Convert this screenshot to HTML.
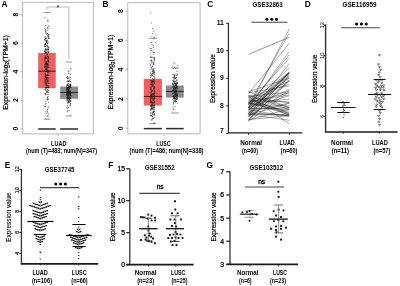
<!DOCTYPE html>
<html><head><meta charset="utf-8"><style>
html,body{margin:0;padding:0;background:#fff;width:400px;height:286px;overflow:hidden}
svg{display:block;will-change:transform}
</style></head><body>
<svg width="400" height="286" viewBox="0 0 400 286">
<rect width="400" height="286" fill="#fff"/>
<text x="1.4" y="7.2" font-family="Liberation Sans, sans-serif" font-size="8.3" font-weight="bold" text-anchor="start" fill="#000" >A</text>
<text x="102.5" y="7.2" font-family="Liberation Sans, sans-serif" font-size="8.3" font-weight="bold" text-anchor="start" fill="#000" >B</text>
<text x="207.3" y="7.2" font-family="Liberation Sans, sans-serif" font-size="8.3" font-weight="bold" text-anchor="start" fill="#000" >C</text>
<text x="304.7" y="7.2" font-family="Liberation Sans, sans-serif" font-size="8.3" font-weight="bold" text-anchor="start" fill="#000" >D</text>
<text x="4.7" y="168.2" font-family="Liberation Sans, sans-serif" font-size="8.3" font-weight="bold" text-anchor="start" fill="#000" >E</text>
<text x="108.3" y="167.8" font-family="Liberation Sans, sans-serif" font-size="8.3" font-weight="bold" text-anchor="start" fill="#000" >F</text>
<text x="206.4" y="168.2" font-family="Liberation Sans, sans-serif" font-size="8.3" font-weight="bold" text-anchor="start" fill="#000" >G</text>
<rect x="22.5" y="2.4" width="70.9" height="131.5" fill="none" stroke="#bdbdbd" stroke-width="1.1"/>
<line x1="20.3" y1="128.7" x2="22.5" y2="128.7" stroke="#888" stroke-width="0.6" />
<text transform="translate(15.2,128.7) rotate(-90)" x="0" y="0" dy="0.35em" font-family="Liberation Sans, sans-serif" font-size="6.9" font-weight="bold" text-anchor="middle" fill="#000">0</text>
<line x1="20.3" y1="100.2" x2="22.5" y2="100.2" stroke="#888" stroke-width="0.6" />
<text transform="translate(15.2,100.2) rotate(-90)" x="0" y="0" dy="0.35em" font-family="Liberation Sans, sans-serif" font-size="6.9" font-weight="bold" text-anchor="middle" fill="#000">2</text>
<line x1="20.3" y1="71.7" x2="22.5" y2="71.7" stroke="#888" stroke-width="0.6" />
<text transform="translate(15.2,71.7) rotate(-90)" x="0" y="0" dy="0.35em" font-family="Liberation Sans, sans-serif" font-size="6.9" font-weight="bold" text-anchor="middle" fill="#000">4</text>
<line x1="20.3" y1="43.2" x2="22.5" y2="43.2" stroke="#888" stroke-width="0.6" />
<text transform="translate(15.2,43.2) rotate(-90)" x="0" y="0" dy="0.35em" font-family="Liberation Sans, sans-serif" font-size="6.9" font-weight="bold" text-anchor="middle" fill="#000">6</text>
<line x1="20.3" y1="14.7" x2="22.5" y2="14.7" stroke="#888" stroke-width="0.6" />
<text transform="translate(15.2,14.7) rotate(-90)" x="0" y="0" dy="0.35em" font-family="Liberation Sans, sans-serif" font-size="6.9" font-weight="bold" text-anchor="middle" fill="#000">8</text>
<text transform="translate(5.3,72.45) rotate(-90)" x="0" y="0" dy="0.35em" font-family="Liberation Sans, sans-serif" font-size="7.1" font-weight="normal" text-anchor="middle" fill="#000" textLength="74.5" lengthAdjust="spacingAndGlyphs" stroke="#000" stroke-width="0.22">Expression-log<tspan font-size="4.6" dy="1.3">2</tspan><tspan dy="-1.3">(TPM+1)</tspan></text>
<rect x="38.2" y="53" width="17.5" height="35.3" fill="#ef5f5f" />
<line x1="38.2" y1="71.2" x2="55.7" y2="71.2" stroke="#1a1a1a" stroke-width="0.9" />
<line x1="38.2" y1="129" x2="55.7" y2="129" stroke="#2a2a2a" stroke-width="1.5" />
<rect x="60.2" y="86.5" width="17.8" height="12.3" fill="#898989" />
<line x1="60.2" y1="92.5" x2="78" y2="92.5" stroke="#1a1a1a" stroke-width="0.9" />
<line x1="60.2" y1="129" x2="78" y2="129" stroke="#2a2a2a" stroke-width="1.5" />
<circle cx="47.43" cy="76.66" r="0.5" fill="#111" fill-opacity="0.75"/>
<circle cx="45" cy="57.52" r="0.5" fill="#111" fill-opacity="0.75"/>
<circle cx="44.94" cy="93.47" r="0.5" fill="#111" fill-opacity="0.75"/>
<circle cx="46.83" cy="75.59" r="0.5" fill="#111" fill-opacity="0.75"/>
<circle cx="44.99" cy="44.42" r="0.5" fill="#111" fill-opacity="0.75"/>
<circle cx="45.08" cy="64.07" r="0.5" fill="#111" fill-opacity="0.75"/>
<circle cx="45.22" cy="111.82" r="0.5" fill="#111" fill-opacity="0.75"/>
<circle cx="45.64" cy="48.95" r="0.5" fill="#111" fill-opacity="0.75"/>
<circle cx="47.12" cy="112.45" r="0.5" fill="#111" fill-opacity="0.75"/>
<circle cx="46.37" cy="113.76" r="0.5" fill="#111" fill-opacity="0.75"/>
<circle cx="48.31" cy="62.66" r="0.5" fill="#111" fill-opacity="0.75"/>
<circle cx="45.92" cy="71.42" r="0.5" fill="#111" fill-opacity="0.75"/>
<circle cx="46" cy="62.58" r="0.5" fill="#111" fill-opacity="0.75"/>
<circle cx="48.13" cy="60.45" r="0.5" fill="#111" fill-opacity="0.75"/>
<circle cx="47.38" cy="56.39" r="0.5" fill="#111" fill-opacity="0.75"/>
<circle cx="46.26" cy="40.42" r="0.5" fill="#111" fill-opacity="0.75"/>
<circle cx="44.95" cy="78.85" r="0.5" fill="#111" fill-opacity="0.75"/>
<circle cx="45.57" cy="72.93" r="0.5" fill="#111" fill-opacity="0.75"/>
<circle cx="46.02" cy="81.43" r="0.5" fill="#111" fill-opacity="0.75"/>
<circle cx="47.16" cy="94.14" r="0.5" fill="#111" fill-opacity="0.75"/>
<circle cx="48.04" cy="90.42" r="0.5" fill="#111" fill-opacity="0.75"/>
<circle cx="47.64" cy="64.17" r="0.5" fill="#111" fill-opacity="0.75"/>
<circle cx="46.91" cy="69.07" r="0.5" fill="#111" fill-opacity="0.75"/>
<circle cx="48.38" cy="37.7" r="0.5" fill="#111" fill-opacity="0.75"/>
<circle cx="48.82" cy="72.92" r="0.5" fill="#111" fill-opacity="0.75"/>
<circle cx="45.2" cy="90.66" r="0.5" fill="#111" fill-opacity="0.75"/>
<circle cx="45.34" cy="106.8" r="0.5" fill="#111" fill-opacity="0.75"/>
<circle cx="46.75" cy="49.63" r="0.5" fill="#111" fill-opacity="0.75"/>
<circle cx="47.91" cy="34.35" r="0.5" fill="#111" fill-opacity="0.75"/>
<circle cx="47.11" cy="61.24" r="0.5" fill="#111" fill-opacity="0.75"/>
<circle cx="47.62" cy="54.93" r="0.5" fill="#111" fill-opacity="0.75"/>
<circle cx="47.2" cy="85.53" r="0.5" fill="#111" fill-opacity="0.75"/>
<circle cx="48.23" cy="94.4" r="0.5" fill="#111" fill-opacity="0.75"/>
<circle cx="48.67" cy="83.52" r="0.5" fill="#111" fill-opacity="0.75"/>
<circle cx="44.95" cy="106.63" r="0.5" fill="#111" fill-opacity="0.75"/>
<circle cx="47.65" cy="64.31" r="0.5" fill="#111" fill-opacity="0.75"/>
<circle cx="48.15" cy="117.65" r="0.5" fill="#111" fill-opacity="0.75"/>
<circle cx="47.51" cy="75.58" r="0.5" fill="#111" fill-opacity="0.75"/>
<circle cx="44.79" cy="46.23" r="0.5" fill="#111" fill-opacity="0.75"/>
<circle cx="45.19" cy="84.97" r="0.5" fill="#111" fill-opacity="0.75"/>
<circle cx="44.95" cy="66.67" r="0.5" fill="#111" fill-opacity="0.75"/>
<circle cx="45.74" cy="68.77" r="0.5" fill="#111" fill-opacity="0.75"/>
<circle cx="46.34" cy="83.31" r="0.5" fill="#111" fill-opacity="0.75"/>
<circle cx="46.59" cy="63.21" r="0.5" fill="#111" fill-opacity="0.75"/>
<circle cx="47.01" cy="77.66" r="0.5" fill="#111" fill-opacity="0.75"/>
<circle cx="48.33" cy="35.99" r="0.5" fill="#111" fill-opacity="0.75"/>
<circle cx="45.87" cy="101.13" r="0.5" fill="#111" fill-opacity="0.75"/>
<circle cx="48.41" cy="90.53" r="0.5" fill="#111" fill-opacity="0.75"/>
<circle cx="48.72" cy="58.35" r="0.5" fill="#111" fill-opacity="0.75"/>
<circle cx="45.67" cy="61.22" r="0.5" fill="#111" fill-opacity="0.75"/>
<circle cx="45.68" cy="57.66" r="0.5" fill="#111" fill-opacity="0.75"/>
<circle cx="45.8" cy="103.39" r="0.5" fill="#111" fill-opacity="0.75"/>
<circle cx="44.72" cy="67.14" r="0.5" fill="#111" fill-opacity="0.75"/>
<circle cx="47.08" cy="91.18" r="0.5" fill="#111" fill-opacity="0.75"/>
<circle cx="48.7" cy="58.6" r="0.5" fill="#111" fill-opacity="0.75"/>
<circle cx="47.29" cy="81.24" r="0.5" fill="#111" fill-opacity="0.75"/>
<circle cx="47.54" cy="98.22" r="0.5" fill="#111" fill-opacity="0.75"/>
<circle cx="47.98" cy="19.86" r="0.5" fill="#111" fill-opacity="0.75"/>
<circle cx="48.37" cy="52.48" r="0.5" fill="#111" fill-opacity="0.75"/>
<circle cx="46.38" cy="62.9" r="0.5" fill="#111" fill-opacity="0.75"/>
<circle cx="45.13" cy="94.05" r="0.5" fill="#111" fill-opacity="0.75"/>
<circle cx="44.98" cy="76.22" r="0.5" fill="#111" fill-opacity="0.75"/>
<circle cx="45.58" cy="76.96" r="0.5" fill="#111" fill-opacity="0.75"/>
<circle cx="44.92" cy="58.37" r="0.5" fill="#111" fill-opacity="0.75"/>
<circle cx="44.7" cy="50.9" r="0.5" fill="#111" fill-opacity="0.75"/>
<circle cx="46.23" cy="63.57" r="0.5" fill="#111" fill-opacity="0.75"/>
<circle cx="44.81" cy="60.89" r="0.5" fill="#111" fill-opacity="0.75"/>
<circle cx="45.32" cy="46.04" r="0.5" fill="#111" fill-opacity="0.75"/>
<circle cx="45.76" cy="94.71" r="0.5" fill="#111" fill-opacity="0.75"/>
<circle cx="45.22" cy="83.91" r="0.5" fill="#111" fill-opacity="0.75"/>
<circle cx="48.27" cy="50.85" r="0.5" fill="#111" fill-opacity="0.75"/>
<circle cx="46.73" cy="42.37" r="0.5" fill="#111" fill-opacity="0.75"/>
<circle cx="45.06" cy="71.49" r="0.5" fill="#111" fill-opacity="0.75"/>
<circle cx="45.81" cy="51.98" r="0.5" fill="#111" fill-opacity="0.75"/>
<circle cx="48.18" cy="56.6" r="0.5" fill="#111" fill-opacity="0.75"/>
<circle cx="48.69" cy="67.43" r="0.5" fill="#111" fill-opacity="0.75"/>
<circle cx="46.92" cy="65.7" r="0.5" fill="#111" fill-opacity="0.75"/>
<circle cx="44.81" cy="51.39" r="0.5" fill="#111" fill-opacity="0.75"/>
<circle cx="46.92" cy="45.42" r="0.5" fill="#111" fill-opacity="0.75"/>
<circle cx="47.62" cy="20.98" r="0.5" fill="#111" fill-opacity="0.75"/>
<circle cx="45.8" cy="76.98" r="0.5" fill="#111" fill-opacity="0.75"/>
<circle cx="47.94" cy="80.37" r="0.5" fill="#111" fill-opacity="0.75"/>
<circle cx="46.94" cy="59.07" r="0.5" fill="#111" fill-opacity="0.75"/>
<circle cx="45.64" cy="66.23" r="0.5" fill="#111" fill-opacity="0.75"/>
<circle cx="48.11" cy="92.21" r="0.5" fill="#111" fill-opacity="0.75"/>
<circle cx="48.09" cy="21.69" r="0.5" fill="#111" fill-opacity="0.75"/>
<circle cx="48.14" cy="74.89" r="0.5" fill="#111" fill-opacity="0.75"/>
<circle cx="46.87" cy="71.41" r="0.5" fill="#111" fill-opacity="0.75"/>
<circle cx="46.19" cy="88.12" r="0.5" fill="#111" fill-opacity="0.75"/>
<circle cx="45.87" cy="64.44" r="0.5" fill="#111" fill-opacity="0.75"/>
<circle cx="45.79" cy="69.2" r="0.5" fill="#111" fill-opacity="0.75"/>
<circle cx="46.58" cy="92.34" r="0.5" fill="#111" fill-opacity="0.75"/>
<circle cx="48.71" cy="98.87" r="0.5" fill="#111" fill-opacity="0.75"/>
<circle cx="45.65" cy="81.88" r="0.5" fill="#111" fill-opacity="0.75"/>
<circle cx="45.53" cy="57.05" r="0.5" fill="#111" fill-opacity="0.75"/>
<circle cx="48.48" cy="60.41" r="0.5" fill="#111" fill-opacity="0.75"/>
<circle cx="48.23" cy="36.82" r="0.5" fill="#111" fill-opacity="0.75"/>
<circle cx="48.06" cy="106.26" r="0.5" fill="#111" fill-opacity="0.75"/>
<circle cx="45.06" cy="65.61" r="0.5" fill="#111" fill-opacity="0.75"/>
<circle cx="47.99" cy="99.41" r="0.5" fill="#111" fill-opacity="0.75"/>
<circle cx="47.85" cy="116.57" r="0.5" fill="#111" fill-opacity="0.75"/>
<circle cx="48.01" cy="85.77" r="0.5" fill="#111" fill-opacity="0.75"/>
<circle cx="46.1" cy="68.12" r="0.5" fill="#111" fill-opacity="0.75"/>
<circle cx="46.36" cy="49.38" r="0.5" fill="#111" fill-opacity="0.75"/>
<circle cx="47.74" cy="35.2" r="0.5" fill="#111" fill-opacity="0.75"/>
<circle cx="45.33" cy="64.01" r="0.5" fill="#111" fill-opacity="0.75"/>
<circle cx="48.5" cy="58.88" r="0.5" fill="#111" fill-opacity="0.75"/>
<circle cx="48.17" cy="65.4" r="0.5" fill="#111" fill-opacity="0.75"/>
<circle cx="48.82" cy="83.42" r="0.5" fill="#111" fill-opacity="0.75"/>
<circle cx="47" cy="83.02" r="0.5" fill="#111" fill-opacity="0.75"/>
<circle cx="45.25" cy="89.62" r="0.5" fill="#111" fill-opacity="0.75"/>
<circle cx="47.43" cy="64.35" r="0.5" fill="#111" fill-opacity="0.75"/>
<circle cx="46.52" cy="79.93" r="0.5" fill="#111" fill-opacity="0.75"/>
<circle cx="45.59" cy="37.97" r="0.5" fill="#111" fill-opacity="0.75"/>
<circle cx="45.76" cy="103.93" r="0.5" fill="#111" fill-opacity="0.75"/>
<circle cx="47.16" cy="75.21" r="0.5" fill="#111" fill-opacity="0.75"/>
<circle cx="45.79" cy="52.45" r="0.5" fill="#111" fill-opacity="0.75"/>
<circle cx="48.52" cy="81.82" r="0.5" fill="#111" fill-opacity="0.75"/>
<circle cx="46.19" cy="63.83" r="0.5" fill="#111" fill-opacity="0.75"/>
<circle cx="48.5" cy="102.14" r="0.5" fill="#111" fill-opacity="0.75"/>
<circle cx="46.47" cy="61.7" r="0.5" fill="#111" fill-opacity="0.75"/>
<circle cx="46.93" cy="44.69" r="0.5" fill="#111" fill-opacity="0.75"/>
<circle cx="46.9" cy="84.82" r="0.5" fill="#111" fill-opacity="0.75"/>
<circle cx="45.47" cy="43.6" r="0.5" fill="#111" fill-opacity="0.75"/>
<circle cx="44.72" cy="67.13" r="0.5" fill="#111" fill-opacity="0.75"/>
<circle cx="46.69" cy="65.61" r="0.5" fill="#111" fill-opacity="0.75"/>
<circle cx="47.75" cy="84.89" r="0.5" fill="#111" fill-opacity="0.75"/>
<circle cx="46.88" cy="91.05" r="0.5" fill="#111" fill-opacity="0.75"/>
<circle cx="47.03" cy="77.97" r="0.5" fill="#111" fill-opacity="0.75"/>
<circle cx="47.05" cy="67.75" r="0.5" fill="#111" fill-opacity="0.75"/>
<circle cx="45.74" cy="81.81" r="0.5" fill="#111" fill-opacity="0.75"/>
<circle cx="46.83" cy="77.5" r="0.5" fill="#111" fill-opacity="0.75"/>
<circle cx="47.06" cy="27.99" r="0.5" fill="#111" fill-opacity="0.75"/>
<circle cx="46.56" cy="66.82" r="0.5" fill="#111" fill-opacity="0.75"/>
<circle cx="46.85" cy="92.78" r="0.5" fill="#111" fill-opacity="0.75"/>
<circle cx="47.61" cy="89.5" r="0.5" fill="#111" fill-opacity="0.75"/>
<circle cx="46.71" cy="99.69" r="0.5" fill="#111" fill-opacity="0.75"/>
<circle cx="48.65" cy="61.19" r="0.5" fill="#111" fill-opacity="0.75"/>
<circle cx="48.66" cy="86.28" r="0.5" fill="#111" fill-opacity="0.75"/>
<circle cx="45.79" cy="118.71" r="0.5" fill="#111" fill-opacity="0.75"/>
<circle cx="48.23" cy="92.1" r="0.5" fill="#111" fill-opacity="0.75"/>
<circle cx="46.56" cy="62" r="0.5" fill="#111" fill-opacity="0.75"/>
<circle cx="45" cy="60.64" r="0.5" fill="#111" fill-opacity="0.75"/>
<circle cx="47.51" cy="69.7" r="0.5" fill="#111" fill-opacity="0.75"/>
<circle cx="47.99" cy="60.57" r="0.5" fill="#111" fill-opacity="0.75"/>
<circle cx="47.71" cy="58.75" r="0.5" fill="#111" fill-opacity="0.75"/>
<circle cx="47.47" cy="78.98" r="0.5" fill="#111" fill-opacity="0.75"/>
<circle cx="48.76" cy="38.11" r="0.5" fill="#111" fill-opacity="0.75"/>
<circle cx="45.62" cy="29.88" r="0.5" fill="#111" fill-opacity="0.75"/>
<circle cx="46.75" cy="46.25" r="0.5" fill="#111" fill-opacity="0.75"/>
<circle cx="48.86" cy="77.66" r="0.5" fill="#111" fill-opacity="0.75"/>
<circle cx="46.51" cy="62.95" r="0.5" fill="#111" fill-opacity="0.75"/>
<circle cx="46.87" cy="83.13" r="0.5" fill="#111" fill-opacity="0.75"/>
<circle cx="46.04" cy="79.02" r="0.5" fill="#111" fill-opacity="0.75"/>
<circle cx="47.73" cy="56.33" r="0.5" fill="#111" fill-opacity="0.75"/>
<circle cx="46.55" cy="38.82" r="0.5" fill="#111" fill-opacity="0.75"/>
<circle cx="44.78" cy="66.41" r="0.5" fill="#111" fill-opacity="0.75"/>
<circle cx="46.85" cy="87.36" r="0.5" fill="#111" fill-opacity="0.75"/>
<circle cx="44.97" cy="39.87" r="0.5" fill="#111" fill-opacity="0.75"/>
<circle cx="48.78" cy="26.52" r="0.5" fill="#111" fill-opacity="0.75"/>
<circle cx="45.14" cy="74.39" r="0.5" fill="#111" fill-opacity="0.75"/>
<circle cx="47.97" cy="70.97" r="0.5" fill="#111" fill-opacity="0.75"/>
<circle cx="45.84" cy="63.22" r="0.5" fill="#111" fill-opacity="0.75"/>
<circle cx="48.53" cy="52.34" r="0.5" fill="#111" fill-opacity="0.75"/>
<circle cx="48.14" cy="51.28" r="0.5" fill="#111" fill-opacity="0.75"/>
<circle cx="48.56" cy="71.04" r="0.5" fill="#111" fill-opacity="0.75"/>
<circle cx="47.1" cy="56.11" r="0.5" fill="#111" fill-opacity="0.75"/>
<circle cx="44.94" cy="73.58" r="0.5" fill="#111" fill-opacity="0.75"/>
<circle cx="47.59" cy="80.55" r="0.5" fill="#111" fill-opacity="0.75"/>
<circle cx="48.64" cy="78.9" r="0.5" fill="#111" fill-opacity="0.75"/>
<circle cx="47.36" cy="65.9" r="0.5" fill="#111" fill-opacity="0.75"/>
<circle cx="48.3" cy="66.95" r="0.5" fill="#111" fill-opacity="0.75"/>
<circle cx="44.98" cy="80.16" r="0.5" fill="#111" fill-opacity="0.75"/>
<circle cx="46.12" cy="52.43" r="0.5" fill="#111" fill-opacity="0.75"/>
<circle cx="47.02" cy="91.1" r="0.5" fill="#111" fill-opacity="0.75"/>
<circle cx="45.24" cy="52.64" r="0.5" fill="#111" fill-opacity="0.75"/>
<circle cx="46.91" cy="79.03" r="0.5" fill="#111" fill-opacity="0.75"/>
<circle cx="45.38" cy="69.4" r="0.5" fill="#111" fill-opacity="0.75"/>
<circle cx="44.91" cy="58.3" r="0.5" fill="#111" fill-opacity="0.75"/>
<circle cx="45.98" cy="63.84" r="0.5" fill="#111" fill-opacity="0.75"/>
<circle cx="47.89" cy="49.69" r="0.5" fill="#111" fill-opacity="0.75"/>
<circle cx="45.45" cy="77.57" r="0.5" fill="#111" fill-opacity="0.75"/>
<circle cx="46.16" cy="41.83" r="0.5" fill="#111" fill-opacity="0.75"/>
<circle cx="44.76" cy="51.46" r="0.5" fill="#111" fill-opacity="0.75"/>
<circle cx="47.78" cy="68.12" r="0.5" fill="#111" fill-opacity="0.75"/>
<circle cx="46.69" cy="85.61" r="0.5" fill="#111" fill-opacity="0.75"/>
<circle cx="48.63" cy="75.37" r="0.5" fill="#111" fill-opacity="0.75"/>
<circle cx="46.52" cy="34.08" r="0.5" fill="#111" fill-opacity="0.75"/>
<circle cx="46.78" cy="41.73" r="0.5" fill="#111" fill-opacity="0.75"/>
<circle cx="46.83" cy="57.64" r="0.5" fill="#111" fill-opacity="0.75"/>
<circle cx="47.59" cy="91.76" r="0.5" fill="#111" fill-opacity="0.75"/>
<circle cx="48.2" cy="47.57" r="0.5" fill="#111" fill-opacity="0.75"/>
<circle cx="47.67" cy="72.79" r="0.5" fill="#111" fill-opacity="0.75"/>
<circle cx="46.16" cy="86.95" r="0.5" fill="#111" fill-opacity="0.75"/>
<circle cx="44.93" cy="89.43" r="0.5" fill="#111" fill-opacity="0.75"/>
<circle cx="47.81" cy="63.73" r="0.5" fill="#111" fill-opacity="0.75"/>
<circle cx="45.77" cy="63.32" r="0.5" fill="#111" fill-opacity="0.75"/>
<circle cx="48.23" cy="64.84" r="0.5" fill="#111" fill-opacity="0.75"/>
<circle cx="48.36" cy="61.32" r="0.5" fill="#111" fill-opacity="0.75"/>
<circle cx="45.72" cy="79.99" r="0.5" fill="#111" fill-opacity="0.75"/>
<circle cx="45.93" cy="88.09" r="0.5" fill="#111" fill-opacity="0.75"/>
<circle cx="46.57" cy="84.41" r="0.5" fill="#111" fill-opacity="0.75"/>
<circle cx="45.81" cy="66.6" r="0.5" fill="#111" fill-opacity="0.75"/>
<circle cx="47" cy="86.18" r="0.5" fill="#111" fill-opacity="0.75"/>
<circle cx="46" cy="68.02" r="0.5" fill="#111" fill-opacity="0.75"/>
<circle cx="46.3" cy="70.99" r="0.5" fill="#111" fill-opacity="0.75"/>
<circle cx="46.69" cy="69.37" r="0.5" fill="#111" fill-opacity="0.75"/>
<circle cx="46.82" cy="86.98" r="0.5" fill="#111" fill-opacity="0.75"/>
<circle cx="44.72" cy="70.57" r="0.5" fill="#111" fill-opacity="0.75"/>
<circle cx="46.38" cy="71.24" r="0.5" fill="#111" fill-opacity="0.75"/>
<circle cx="44.88" cy="59.5" r="0.5" fill="#111" fill-opacity="0.75"/>
<circle cx="45.68" cy="49.25" r="0.5" fill="#111" fill-opacity="0.75"/>
<circle cx="47.16" cy="67.28" r="0.5" fill="#111" fill-opacity="0.75"/>
<circle cx="47.46" cy="111.13" r="0.5" fill="#111" fill-opacity="0.75"/>
<circle cx="47.71" cy="77.85" r="0.5" fill="#111" fill-opacity="0.75"/>
<circle cx="46.07" cy="52.31" r="0.5" fill="#111" fill-opacity="0.75"/>
<circle cx="48.84" cy="87.34" r="0.5" fill="#111" fill-opacity="0.75"/>
<circle cx="47.4" cy="46.64" r="0.5" fill="#111" fill-opacity="0.75"/>
<circle cx="44.88" cy="37.98" r="0.5" fill="#111" fill-opacity="0.75"/>
<circle cx="47.33" cy="43.41" r="0.5" fill="#111" fill-opacity="0.75"/>
<circle cx="47.78" cy="115.51" r="0.5" fill="#111" fill-opacity="0.75"/>
<circle cx="46.9" cy="65.07" r="0.5" fill="#111" fill-opacity="0.75"/>
<circle cx="46.82" cy="82.9" r="0.5" fill="#111" fill-opacity="0.75"/>
<circle cx="48.17" cy="47.35" r="0.5" fill="#111" fill-opacity="0.75"/>
<circle cx="47.15" cy="109.08" r="0.5" fill="#111" fill-opacity="0.75"/>
<circle cx="47.61" cy="40.73" r="0.5" fill="#111" fill-opacity="0.75"/>
<circle cx="45.67" cy="93.85" r="0.5" fill="#111" fill-opacity="0.75"/>
<circle cx="46.21" cy="57.2" r="0.5" fill="#111" fill-opacity="0.75"/>
<circle cx="45.14" cy="67.68" r="0.5" fill="#111" fill-opacity="0.75"/>
<circle cx="47.34" cy="53.9" r="0.5" fill="#111" fill-opacity="0.75"/>
<circle cx="47.33" cy="97.64" r="0.5" fill="#111" fill-opacity="0.75"/>
<circle cx="44.71" cy="82.47" r="0.5" fill="#111" fill-opacity="0.75"/>
<circle cx="48.05" cy="96.48" r="0.5" fill="#111" fill-opacity="0.75"/>
<circle cx="46.95" cy="70.6" r="0.5" fill="#111" fill-opacity="0.75"/>
<circle cx="47.47" cy="99.76" r="0.5" fill="#111" fill-opacity="0.75"/>
<circle cx="45.76" cy="32.99" r="0.5" fill="#111" fill-opacity="0.75"/>
<circle cx="45.01" cy="53.85" r="0.5" fill="#111" fill-opacity="0.75"/>
<circle cx="45.56" cy="74.21" r="0.5" fill="#111" fill-opacity="0.75"/>
<circle cx="47.81" cy="30.15" r="0.5" fill="#111" fill-opacity="0.75"/>
<circle cx="46.31" cy="41.51" r="0.5" fill="#111" fill-opacity="0.75"/>
<circle cx="46.71" cy="74.7" r="0.5" fill="#111" fill-opacity="0.75"/>
<circle cx="47.29" cy="87.5" r="0.5" fill="#111" fill-opacity="0.75"/>
<circle cx="47.4" cy="109.2" r="0.5" fill="#111" fill-opacity="0.75"/>
<circle cx="45.77" cy="57.83" r="0.5" fill="#111" fill-opacity="0.75"/>
<circle cx="47.82" cy="63.69" r="0.5" fill="#111" fill-opacity="0.75"/>
<circle cx="44.75" cy="81.1" r="0.5" fill="#111" fill-opacity="0.75"/>
<circle cx="44.95" cy="39.85" r="0.5" fill="#111" fill-opacity="0.75"/>
<circle cx="47.61" cy="74.66" r="0.5" fill="#111" fill-opacity="0.75"/>
<circle cx="47.54" cy="33.3" r="0.5" fill="#111" fill-opacity="0.75"/>
<circle cx="46.65" cy="77.91" r="0.5" fill="#111" fill-opacity="0.75"/>
<circle cx="46.66" cy="41.19" r="0.5" fill="#111" fill-opacity="0.75"/>
<circle cx="45.54" cy="31.45" r="0.5" fill="#111" fill-opacity="0.75"/>
<circle cx="48.81" cy="34.5" r="0.5" fill="#111" fill-opacity="0.75"/>
<circle cx="46.63" cy="65.96" r="0.5" fill="#111" fill-opacity="0.75"/>
<circle cx="48.14" cy="72.1" r="0.5" fill="#111" fill-opacity="0.75"/>
<circle cx="45.83" cy="43.57" r="0.5" fill="#111" fill-opacity="0.75"/>
<circle cx="45.58" cy="75.7" r="0.5" fill="#111" fill-opacity="0.75"/>
<circle cx="47.14" cy="54.11" r="0.5" fill="#111" fill-opacity="0.75"/>
<circle cx="45.3" cy="76.03" r="0.5" fill="#111" fill-opacity="0.75"/>
<circle cx="45.26" cy="79.56" r="0.5" fill="#111" fill-opacity="0.75"/>
<circle cx="48.42" cy="57.58" r="0.5" fill="#111" fill-opacity="0.75"/>
<circle cx="47.65" cy="97.16" r="0.5" fill="#111" fill-opacity="0.75"/>
<circle cx="46.74" cy="64.06" r="0.5" fill="#111" fill-opacity="0.75"/>
<circle cx="44.8" cy="17.39" r="0.5" fill="#111" fill-opacity="0.75"/>
<circle cx="46.59" cy="41.27" r="0.5" fill="#111" fill-opacity="0.75"/>
<circle cx="45.97" cy="69.62" r="0.5" fill="#111" fill-opacity="0.75"/>
<circle cx="46.03" cy="55.76" r="0.5" fill="#111" fill-opacity="0.75"/>
<circle cx="48.23" cy="52.57" r="0.5" fill="#111" fill-opacity="0.75"/>
<circle cx="48.22" cy="28.71" r="0.5" fill="#111" fill-opacity="0.75"/>
<circle cx="45.2" cy="69.82" r="0.5" fill="#111" fill-opacity="0.75"/>
<circle cx="48.49" cy="35.01" r="0.5" fill="#111" fill-opacity="0.75"/>
<circle cx="45.92" cy="87.85" r="0.5" fill="#111" fill-opacity="0.75"/>
<circle cx="48.89" cy="87.58" r="0.5" fill="#111" fill-opacity="0.75"/>
<circle cx="47.17" cy="52.35" r="0.5" fill="#111" fill-opacity="0.75"/>
<circle cx="45.86" cy="87.17" r="0.5" fill="#111" fill-opacity="0.75"/>
<circle cx="44.9" cy="50.04" r="0.5" fill="#111" fill-opacity="0.75"/>
<circle cx="45.9" cy="32.3" r="0.5" fill="#111" fill-opacity="0.75"/>
<circle cx="48.63" cy="42.06" r="0.5" fill="#111" fill-opacity="0.75"/>
<circle cx="46.85" cy="70.19" r="0.5" fill="#111" fill-opacity="0.75"/>
<circle cx="45.5" cy="50.68" r="0.5" fill="#111" fill-opacity="0.75"/>
<circle cx="48.41" cy="113.92" r="0.5" fill="#111" fill-opacity="0.75"/>
<circle cx="48.11" cy="25.72" r="0.5" fill="#111" fill-opacity="0.75"/>
<circle cx="48.65" cy="107.81" r="0.5" fill="#111" fill-opacity="0.75"/>
<circle cx="47.01" cy="110.7" r="0.5" fill="#111" fill-opacity="0.75"/>
<circle cx="47.78" cy="71.78" r="0.5" fill="#111" fill-opacity="0.75"/>
<circle cx="46.59" cy="78.07" r="0.5" fill="#111" fill-opacity="0.75"/>
<circle cx="45.9" cy="69.67" r="0.5" fill="#111" fill-opacity="0.75"/>
<circle cx="44.91" cy="106.13" r="0.5" fill="#111" fill-opacity="0.75"/>
<circle cx="46.68" cy="58.61" r="0.5" fill="#111" fill-opacity="0.75"/>
<circle cx="46.14" cy="76.05" r="0.5" fill="#111" fill-opacity="0.75"/>
<circle cx="48.8" cy="82.36" r="0.5" fill="#111" fill-opacity="0.75"/>
<circle cx="45.79" cy="31.23" r="0.5" fill="#111" fill-opacity="0.75"/>
<circle cx="47.04" cy="82.02" r="0.5" fill="#111" fill-opacity="0.75"/>
<circle cx="46.36" cy="87.8" r="0.5" fill="#111" fill-opacity="0.75"/>
<circle cx="45.57" cy="62.92" r="0.5" fill="#111" fill-opacity="0.75"/>
<circle cx="48.51" cy="57.42" r="0.5" fill="#111" fill-opacity="0.75"/>
<circle cx="48.51" cy="87.85" r="0.5" fill="#111" fill-opacity="0.75"/>
<circle cx="48.89" cy="69.95" r="0.5" fill="#111" fill-opacity="0.75"/>
<circle cx="45.51" cy="83.28" r="0.5" fill="#111" fill-opacity="0.75"/>
<circle cx="45.08" cy="66.05" r="0.5" fill="#111" fill-opacity="0.75"/>
<circle cx="45.5" cy="52.3" r="0.5" fill="#111" fill-opacity="0.75"/>
<circle cx="45.59" cy="43.68" r="0.5" fill="#111" fill-opacity="0.75"/>
<circle cx="46.37" cy="48.93" r="0.5" fill="#111" fill-opacity="0.75"/>
<circle cx="45.99" cy="51" r="0.5" fill="#111" fill-opacity="0.75"/>
<circle cx="49.14" cy="38.27" r="0.5" fill="#111" fill-opacity="0.75"/>
<circle cx="44.93" cy="44.53" r="0.5" fill="#111" fill-opacity="0.75"/>
<circle cx="48.61" cy="49.33" r="0.5" fill="#111" fill-opacity="0.75"/>
<circle cx="45.54" cy="46.5" r="0.5" fill="#111" fill-opacity="0.75"/>
<circle cx="46.3" cy="37.83" r="0.5" fill="#111" fill-opacity="0.75"/>
<circle cx="48.54" cy="37.1" r="0.5" fill="#111" fill-opacity="0.75"/>
<circle cx="44.46" cy="46.81" r="0.5" fill="#111" fill-opacity="0.75"/>
<circle cx="47.85" cy="51.04" r="0.5" fill="#111" fill-opacity="0.75"/>
<circle cx="47.24" cy="36.11" r="0.5" fill="#111" fill-opacity="0.75"/>
<circle cx="48.93" cy="34.7" r="0.5" fill="#111" fill-opacity="0.75"/>
<circle cx="48.43" cy="48.88" r="0.5" fill="#111" fill-opacity="0.75"/>
<circle cx="45.54" cy="25.43" r="0.5" fill="#111" fill-opacity="0.75"/>
<circle cx="46.91" cy="42.51" r="0.5" fill="#111" fill-opacity="0.75"/>
<circle cx="47.71" cy="43.68" r="0.5" fill="#111" fill-opacity="0.75"/>
<circle cx="47.54" cy="27.63" r="0.5" fill="#111" fill-opacity="0.75"/>
<circle cx="48.12" cy="57.09" r="0.5" fill="#111" fill-opacity="0.75"/>
<circle cx="44.5" cy="44.12" r="0.5" fill="#111" fill-opacity="0.75"/>
<circle cx="48.9" cy="46.81" r="0.5" fill="#111" fill-opacity="0.75"/>
<circle cx="44.94" cy="56.3" r="0.5" fill="#111" fill-opacity="0.75"/>
<circle cx="47.79" cy="49.13" r="0.5" fill="#111" fill-opacity="0.75"/>
<circle cx="44.86" cy="28.63" r="0.5" fill="#111" fill-opacity="0.75"/>
<circle cx="47.21" cy="33.2" r="0.5" fill="#111" fill-opacity="0.75"/>
<circle cx="46.24" cy="41.47" r="0.5" fill="#111" fill-opacity="0.75"/>
<circle cx="44.35" cy="45.71" r="0.5" fill="#111" fill-opacity="0.75"/>
<circle cx="45.81" cy="29.85" r="0.5" fill="#111" fill-opacity="0.75"/>
<circle cx="47.52" cy="40.1" r="0.5" fill="#111" fill-opacity="0.75"/>
<circle cx="45.47" cy="36.84" r="0.5" fill="#111" fill-opacity="0.75"/>
<circle cx="47.82" cy="48.23" r="0.5" fill="#111" fill-opacity="0.75"/>
<circle cx="46.79" cy="49.96" r="0.5" fill="#111" fill-opacity="0.75"/>
<circle cx="47.67" cy="46.1" r="0.5" fill="#111" fill-opacity="0.75"/>
<circle cx="47.64" cy="43.61" r="0.5" fill="#111" fill-opacity="0.75"/>
<circle cx="44.47" cy="39.79" r="0.5" fill="#111" fill-opacity="0.75"/>
<circle cx="45.99" cy="53.53" r="0.5" fill="#111" fill-opacity="0.75"/>
<circle cx="45.29" cy="38.57" r="0.5" fill="#111" fill-opacity="0.75"/>
<circle cx="46.82" cy="42.09" r="0.5" fill="#111" fill-opacity="0.75"/>
<circle cx="45.86" cy="38.43" r="0.5" fill="#111" fill-opacity="0.75"/>
<circle cx="45.41" cy="44.5" r="0.5" fill="#111" fill-opacity="0.75"/>
<circle cx="49.06" cy="48.12" r="0.5" fill="#111" fill-opacity="0.75"/>
<circle cx="45.42" cy="48.66" r="0.5" fill="#111" fill-opacity="0.75"/>
<circle cx="49.04" cy="38.4" r="0.5" fill="#111" fill-opacity="0.75"/>
<circle cx="45.36" cy="40.26" r="0.5" fill="#111" fill-opacity="0.75"/>
<circle cx="70.79" cy="84.91" r="0.5" fill="#111" fill-opacity="0.75"/>
<circle cx="66.95" cy="90.12" r="0.5" fill="#111" fill-opacity="0.75"/>
<circle cx="68.35" cy="89.69" r="0.5" fill="#111" fill-opacity="0.75"/>
<circle cx="69.78" cy="77.24" r="0.5" fill="#111" fill-opacity="0.75"/>
<circle cx="70.89" cy="102.88" r="0.5" fill="#111" fill-opacity="0.75"/>
<circle cx="67.48" cy="84.76" r="0.5" fill="#111" fill-opacity="0.75"/>
<circle cx="70.63" cy="95.23" r="0.5" fill="#111" fill-opacity="0.75"/>
<circle cx="69.49" cy="91.99" r="0.5" fill="#111" fill-opacity="0.75"/>
<circle cx="68.29" cy="94.18" r="0.5" fill="#111" fill-opacity="0.75"/>
<circle cx="67.41" cy="97.5" r="0.5" fill="#111" fill-opacity="0.75"/>
<circle cx="66.71" cy="86.29" r="0.5" fill="#111" fill-opacity="0.75"/>
<circle cx="70.71" cy="93.47" r="0.5" fill="#111" fill-opacity="0.75"/>
<circle cx="67.22" cy="83.86" r="0.5" fill="#111" fill-opacity="0.75"/>
<circle cx="68.2" cy="86.06" r="0.5" fill="#111" fill-opacity="0.75"/>
<circle cx="70.15" cy="93.28" r="0.5" fill="#111" fill-opacity="0.75"/>
<circle cx="66.91" cy="87.82" r="0.5" fill="#111" fill-opacity="0.75"/>
<circle cx="68.69" cy="100.39" r="0.5" fill="#111" fill-opacity="0.75"/>
<circle cx="67.51" cy="105.76" r="0.5" fill="#111" fill-opacity="0.75"/>
<circle cx="68.23" cy="77.71" r="0.5" fill="#111" fill-opacity="0.75"/>
<circle cx="68.43" cy="90.19" r="0.5" fill="#111" fill-opacity="0.75"/>
<circle cx="70.11" cy="93.26" r="0.5" fill="#111" fill-opacity="0.75"/>
<circle cx="66.85" cy="91.67" r="0.5" fill="#111" fill-opacity="0.75"/>
<circle cx="66.96" cy="94.47" r="0.5" fill="#111" fill-opacity="0.75"/>
<circle cx="69.84" cy="85.97" r="0.5" fill="#111" fill-opacity="0.75"/>
<circle cx="70.47" cy="95.21" r="0.5" fill="#111" fill-opacity="0.75"/>
<circle cx="70.72" cy="95.67" r="0.5" fill="#111" fill-opacity="0.75"/>
<circle cx="69.29" cy="85.97" r="0.5" fill="#111" fill-opacity="0.75"/>
<circle cx="68.03" cy="93.01" r="0.5" fill="#111" fill-opacity="0.75"/>
<circle cx="67.86" cy="77.95" r="0.5" fill="#111" fill-opacity="0.75"/>
<circle cx="70.55" cy="77.11" r="0.5" fill="#111" fill-opacity="0.75"/>
<circle cx="69.36" cy="91.58" r="0.5" fill="#111" fill-opacity="0.75"/>
<circle cx="67.68" cy="90.1" r="0.5" fill="#111" fill-opacity="0.75"/>
<circle cx="68.7" cy="92.62" r="0.5" fill="#111" fill-opacity="0.75"/>
<circle cx="68.32" cy="70.82" r="0.5" fill="#111" fill-opacity="0.75"/>
<circle cx="67.75" cy="97.81" r="0.5" fill="#111" fill-opacity="0.75"/>
<circle cx="70.6" cy="101.26" r="0.5" fill="#111" fill-opacity="0.75"/>
<circle cx="67.47" cy="87.54" r="0.5" fill="#111" fill-opacity="0.75"/>
<circle cx="70.16" cy="87.24" r="0.5" fill="#111" fill-opacity="0.75"/>
<circle cx="69.95" cy="105.62" r="0.5" fill="#111" fill-opacity="0.75"/>
<circle cx="68.04" cy="98.09" r="0.5" fill="#111" fill-opacity="0.75"/>
<circle cx="68.22" cy="96.85" r="0.5" fill="#111" fill-opacity="0.75"/>
<circle cx="67.53" cy="91.21" r="0.5" fill="#111" fill-opacity="0.75"/>
<circle cx="69.86" cy="95.45" r="0.5" fill="#111" fill-opacity="0.75"/>
<circle cx="66.84" cy="91.88" r="0.5" fill="#111" fill-opacity="0.75"/>
<circle cx="69.02" cy="88.7" r="0.5" fill="#111" fill-opacity="0.75"/>
<circle cx="70.41" cy="103.28" r="0.5" fill="#111" fill-opacity="0.75"/>
<circle cx="70.85" cy="69.93" r="0.5" fill="#111" fill-opacity="0.75"/>
<circle cx="67.1" cy="92.28" r="0.5" fill="#111" fill-opacity="0.75"/>
<circle cx="68.79" cy="88.25" r="0.5" fill="#111" fill-opacity="0.75"/>
<circle cx="67.68" cy="94.34" r="0.5" fill="#111" fill-opacity="0.75"/>
<circle cx="68.45" cy="101.25" r="0.5" fill="#111" fill-opacity="0.75"/>
<circle cx="69.84" cy="101.56" r="0.5" fill="#111" fill-opacity="0.75"/>
<circle cx="70.26" cy="101.01" r="0.5" fill="#111" fill-opacity="0.75"/>
<circle cx="70.23" cy="94.23" r="0.5" fill="#111" fill-opacity="0.75"/>
<circle cx="67.93" cy="95.79" r="0.5" fill="#111" fill-opacity="0.75"/>
<circle cx="69.8" cy="99.73" r="0.5" fill="#111" fill-opacity="0.75"/>
<circle cx="67.54" cy="95.42" r="0.5" fill="#111" fill-opacity="0.75"/>
<circle cx="67.34" cy="91.83" r="0.5" fill="#111" fill-opacity="0.75"/>
<circle cx="70.41" cy="85.31" r="0.5" fill="#111" fill-opacity="0.75"/>
<circle cx="68.36" cy="98.86" r="0.5" fill="#111" fill-opacity="0.75"/>
<circle cx="70.87" cy="95.64" r="0.5" fill="#111" fill-opacity="0.75"/>
<circle cx="70.1" cy="98.34" r="0.5" fill="#111" fill-opacity="0.75"/>
<circle cx="69.44" cy="92.23" r="0.5" fill="#111" fill-opacity="0.75"/>
<circle cx="68.69" cy="87.84" r="0.5" fill="#111" fill-opacity="0.75"/>
<circle cx="70.14" cy="92.17" r="0.5" fill="#111" fill-opacity="0.75"/>
<circle cx="66.87" cy="81.38" r="0.5" fill="#111" fill-opacity="0.75"/>
<circle cx="67.93" cy="108.44" r="0.5" fill="#111" fill-opacity="0.75"/>
<circle cx="70.79" cy="87.74" r="0.5" fill="#111" fill-opacity="0.75"/>
<circle cx="69.15" cy="88.03" r="0.5" fill="#111" fill-opacity="0.75"/>
<circle cx="70.34" cy="84.22" r="0.5" fill="#111" fill-opacity="0.75"/>
<circle cx="68.59" cy="95.56" r="0.5" fill="#111" fill-opacity="0.75"/>
<circle cx="70.67" cy="92.89" r="0.5" fill="#111" fill-opacity="0.75"/>
<circle cx="67.14" cy="76.64" r="0.5" fill="#111" fill-opacity="0.75"/>
<circle cx="67.61" cy="102.05" r="0.5" fill="#111" fill-opacity="0.75"/>
<circle cx="68.25" cy="98.92" r="0.5" fill="#111" fill-opacity="0.75"/>
<circle cx="67.77" cy="88.17" r="0.5" fill="#111" fill-opacity="0.75"/>
<circle cx="69.22" cy="87.3" r="0.5" fill="#111" fill-opacity="0.75"/>
<circle cx="66.75" cy="95.39" r="0.5" fill="#111" fill-opacity="0.75"/>
<circle cx="68.07" cy="96.79" r="0.5" fill="#111" fill-opacity="0.75"/>
<circle cx="68.01" cy="94.4" r="0.5" fill="#111" fill-opacity="0.75"/>
<circle cx="67.55" cy="97.02" r="0.5" fill="#111" fill-opacity="0.75"/>
<circle cx="66.97" cy="88.81" r="0.5" fill="#111" fill-opacity="0.75"/>
<circle cx="67.13" cy="102.62" r="0.5" fill="#111" fill-opacity="0.75"/>
<circle cx="69.38" cy="100.77" r="0.5" fill="#111" fill-opacity="0.75"/>
<circle cx="67.08" cy="85.11" r="0.5" fill="#111" fill-opacity="0.75"/>
<circle cx="68.42" cy="84.9" r="0.5" fill="#111" fill-opacity="0.75"/>
<circle cx="67.89" cy="80.27" r="0.5" fill="#111" fill-opacity="0.75"/>
<circle cx="68.01" cy="99.68" r="0.5" fill="#111" fill-opacity="0.75"/>
<circle cx="69.08" cy="71.49" r="0.5" fill="#111" fill-opacity="0.75"/>
<circle cx="70.33" cy="97.65" r="0.5" fill="#111" fill-opacity="0.75"/>
<circle cx="70.89" cy="84.77" r="0.5" fill="#111" fill-opacity="0.75"/>
<circle cx="69.76" cy="95.77" r="0.5" fill="#111" fill-opacity="0.75"/>
<circle cx="67.56" cy="87.51" r="0.5" fill="#111" fill-opacity="0.75"/>
<circle cx="68.48" cy="72.92" r="0.5" fill="#111" fill-opacity="0.75"/>
<circle cx="70.15" cy="91.23" r="0.5" fill="#111" fill-opacity="0.75"/>
<circle cx="68.64" cy="107.15" r="0.5" fill="#111" fill-opacity="0.75"/>
<circle cx="67.38" cy="81.77" r="0.5" fill="#111" fill-opacity="0.75"/>
<circle cx="69.39" cy="80.79" r="0.5" fill="#111" fill-opacity="0.75"/>
<circle cx="70.52" cy="90.89" r="0.5" fill="#111" fill-opacity="0.75"/>
<circle cx="68.26" cy="81.49" r="0.5" fill="#111" fill-opacity="0.75"/>
<circle cx="68.82" cy="85.39" r="0.5" fill="#111" fill-opacity="0.75"/>
<circle cx="68.89" cy="87.55" r="0.5" fill="#111" fill-opacity="0.75"/>
<circle cx="70.59" cy="86.21" r="0.5" fill="#111" fill-opacity="0.75"/>
<circle cx="70.08" cy="83.98" r="0.5" fill="#111" fill-opacity="0.75"/>
<circle cx="70.76" cy="85.45" r="0.5" fill="#111" fill-opacity="0.75"/>
<circle cx="70.66" cy="90.44" r="0.5" fill="#111" fill-opacity="0.75"/>
<circle cx="70.8" cy="87.59" r="0.5" fill="#111" fill-opacity="0.75"/>
<circle cx="70.59" cy="94.84" r="0.5" fill="#111" fill-opacity="0.75"/>
<circle cx="68.33" cy="91.62" r="0.5" fill="#111" fill-opacity="0.75"/>
<circle cx="70.16" cy="81.8" r="0.5" fill="#111" fill-opacity="0.75"/>
<circle cx="67.37" cy="98.9" r="0.5" fill="#111" fill-opacity="0.75"/>
<circle cx="68.4" cy="90.54" r="0.5" fill="#111" fill-opacity="0.75"/>
<circle cx="70.25" cy="98.04" r="0.5" fill="#111" fill-opacity="0.75"/>
<circle cx="67.62" cy="89.25" r="0.5" fill="#111" fill-opacity="0.75"/>
<circle cx="68.38" cy="96.87" r="0.5" fill="#111" fill-opacity="0.75"/>
<circle cx="67.22" cy="100.57" r="0.5" fill="#111" fill-opacity="0.75"/>
<circle cx="67.74" cy="92.91" r="0.5" fill="#111" fill-opacity="0.75"/>
<circle cx="66.87" cy="94.9" r="0.5" fill="#111" fill-opacity="0.75"/>
<circle cx="69.06" cy="110.55" r="0.5" fill="#111" fill-opacity="0.75"/>
<circle cx="70.22" cy="91.82" r="0.5" fill="#111" fill-opacity="0.75"/>
<circle cx="67.19" cy="94.4" r="0.5" fill="#111" fill-opacity="0.75"/>
<circle cx="69.33" cy="100.99" r="0.5" fill="#111" fill-opacity="0.75"/>
<circle cx="67.99" cy="98.47" r="0.5" fill="#111" fill-opacity="0.75"/>
<circle cx="68.49" cy="102.17" r="0.5" fill="#111" fill-opacity="0.75"/>
<circle cx="69.47" cy="86.31" r="0.5" fill="#111" fill-opacity="0.75"/>
<circle cx="66.8" cy="100.9" r="0.5" fill="#111" fill-opacity="0.75"/>
<circle cx="69.3" cy="88.82" r="0.5" fill="#111" fill-opacity="0.75"/>
<circle cx="69.91" cy="98.39" r="0.5" fill="#111" fill-opacity="0.75"/>
<circle cx="69.98" cy="91.51" r="0.5" fill="#111" fill-opacity="0.75"/>
<circle cx="68.69" cy="97.3" r="0.5" fill="#111" fill-opacity="0.75"/>
<circle cx="67.15" cy="90.49" r="0.5" fill="#111" fill-opacity="0.75"/>
<circle cx="67.09" cy="85.45" r="0.5" fill="#111" fill-opacity="0.75"/>
<circle cx="68.56" cy="85.16" r="0.5" fill="#111" fill-opacity="0.75"/>
<circle cx="69.37" cy="94.48" r="0.5" fill="#111" fill-opacity="0.75"/>
<circle cx="67.05" cy="92.1" r="0.5" fill="#111" fill-opacity="0.75"/>
<circle cx="68.85" cy="93.52" r="0.5" fill="#111" fill-opacity="0.75"/>
<circle cx="66.93" cy="107.17" r="0.5" fill="#111" fill-opacity="0.75"/>
<circle cx="70.69" cy="100.54" r="0.5" fill="#111" fill-opacity="0.75"/>
<circle cx="67.27" cy="92.15" r="0.5" fill="#111" fill-opacity="0.75"/>
<circle cx="69.77" cy="73.59" r="0.5" fill="#111" fill-opacity="0.75"/>
<circle cx="70.12" cy="114.96" r="0.5" fill="#111" fill-opacity="0.75"/>
<circle cx="68.77" cy="83.28" r="0.5" fill="#111" fill-opacity="0.75"/>
<circle cx="70.72" cy="68.49" r="0.5" fill="#111" fill-opacity="0.75"/>
<circle cx="70.01" cy="87.35" r="0.5" fill="#111" fill-opacity="0.75"/>
<circle cx="70.61" cy="94.61" r="0.5" fill="#111" fill-opacity="0.75"/>
<circle cx="69.88" cy="84.41" r="0.5" fill="#111" fill-opacity="0.75"/>
<circle cx="67.37" cy="88.65" r="0.5" fill="#111" fill-opacity="0.75"/>
<circle cx="70.13" cy="86.29" r="0.5" fill="#111" fill-opacity="0.75"/>
<circle cx="67.3" cy="96.22" r="0.5" fill="#111" fill-opacity="0.75"/>
<circle cx="67.57" cy="111.79" r="0.5" fill="#111" fill-opacity="0.75"/>
<circle cx="67.8" cy="92.21" r="0.5" fill="#111" fill-opacity="0.75"/>
<circle cx="66.85" cy="99.68" r="0.5" fill="#111" fill-opacity="0.75"/>
<circle cx="67.46" cy="92.23" r="0.5" fill="#111" fill-opacity="0.75"/>
<circle cx="69.55" cy="80.96" r="0.5" fill="#111" fill-opacity="0.75"/>
<circle cx="70.46" cy="74.34" r="0.5" fill="#111" fill-opacity="0.75"/>
<circle cx="67.18" cy="84.37" r="0.5" fill="#111" fill-opacity="0.75"/>
<circle cx="68.93" cy="78.42" r="0.5" fill="#111" fill-opacity="0.75"/>
<circle cx="70.37" cy="97.4" r="0.5" fill="#111" fill-opacity="0.75"/>
<circle cx="69.03" cy="98.24" r="0.5" fill="#111" fill-opacity="0.75"/>
<circle cx="67.14" cy="107.96" r="0.5" fill="#111" fill-opacity="0.75"/>
<circle cx="70.87" cy="100.75" r="0.5" fill="#111" fill-opacity="0.75"/>
<circle cx="70.05" cy="98" r="0.5" fill="#111" fill-opacity="0.75"/>
<circle cx="67.81" cy="98.38" r="0.5" fill="#111" fill-opacity="0.75"/>
<circle cx="68.21" cy="80.36" r="0.5" fill="#111" fill-opacity="0.75"/>
<circle cx="69.91" cy="92.63" r="0.5" fill="#111" fill-opacity="0.75"/>
<circle cx="69.82" cy="97.09" r="0.5" fill="#111" fill-opacity="0.75"/>
<circle cx="66.9" cy="89.98" r="0.5" fill="#111" fill-opacity="0.75"/>
<circle cx="69.38" cy="89.06" r="0.5" fill="#111" fill-opacity="0.75"/>
<circle cx="70.83" cy="98.05" r="0.5" fill="#111" fill-opacity="0.75"/>
<circle cx="68.01" cy="103.13" r="0.5" fill="#111" fill-opacity="0.75"/>
<circle cx="66.71" cy="98.64" r="0.5" fill="#111" fill-opacity="0.75"/>
<circle cx="69.29" cy="87.02" r="0.5" fill="#111" fill-opacity="0.75"/>
<circle cx="68.52" cy="90.88" r="0.5" fill="#111" fill-opacity="0.75"/>
<circle cx="67.25" cy="110.65" r="0.5" fill="#111" fill-opacity="0.75"/>
<circle cx="67.65" cy="93.43" r="0.5" fill="#111" fill-opacity="0.75"/>
<circle cx="66.71" cy="93.01" r="0.5" fill="#111" fill-opacity="0.75"/>
<circle cx="68.19" cy="93.47" r="0.5" fill="#111" fill-opacity="0.75"/>
<circle cx="67.64" cy="85.42" r="0.5" fill="#111" fill-opacity="0.75"/>
<circle cx="69.15" cy="86.79" r="0.5" fill="#111" fill-opacity="0.75"/>
<circle cx="69.32" cy="96.99" r="0.5" fill="#111" fill-opacity="0.75"/>
<circle cx="68.69" cy="95.11" r="0.5" fill="#111" fill-opacity="0.75"/>
<circle cx="67.72" cy="78.19" r="0.5" fill="#111" fill-opacity="0.75"/>
<circle cx="67.33" cy="76.39" r="0.5" fill="#111" fill-opacity="0.75"/>
<circle cx="70.36" cy="81.55" r="0.5" fill="#111" fill-opacity="0.75"/>
<circle cx="69.99" cy="84.8" r="0.5" fill="#111" fill-opacity="0.75"/>
<circle cx="66.75" cy="97.58" r="0.5" fill="#111" fill-opacity="0.75"/>
<circle cx="69.41" cy="87.94" r="0.5" fill="#111" fill-opacity="0.75"/>
<circle cx="69.41" cy="99.52" r="0.5" fill="#111" fill-opacity="0.75"/>
<circle cx="68.56" cy="95.07" r="0.5" fill="#111" fill-opacity="0.75"/>
<circle cx="67.74" cy="78.67" r="0.5" fill="#111" fill-opacity="0.75"/>
<circle cx="70.49" cy="97.46" r="0.5" fill="#111" fill-opacity="0.75"/>
<circle cx="68.41" cy="81.47" r="0.5" fill="#111" fill-opacity="0.75"/>
<circle cx="67.7" cy="88.97" r="0.5" fill="#111" fill-opacity="0.75"/>
<circle cx="66.75" cy="77.61" r="0.5" fill="#111" fill-opacity="0.75"/>
<circle cx="69.01" cy="86.43" r="0.5" fill="#111" fill-opacity="0.75"/>
<circle cx="67.54" cy="87.37" r="0.5" fill="#111" fill-opacity="0.75"/>
<circle cx="69.25" cy="93.71" r="0.5" fill="#111" fill-opacity="0.75"/>
<circle cx="70.12" cy="104.58" r="0.5" fill="#111" fill-opacity="0.75"/>
<circle cx="67.43" cy="92.49" r="0.5" fill="#111" fill-opacity="0.75"/>
<circle cx="66.9" cy="94.66" r="0.5" fill="#111" fill-opacity="0.75"/>
<circle cx="70.44" cy="84.98" r="0.5" fill="#111" fill-opacity="0.75"/>
<circle cx="66.73" cy="89.05" r="0.5" fill="#111" fill-opacity="0.75"/>
<circle cx="70.25" cy="105.64" r="0.5" fill="#111" fill-opacity="0.75"/>
<circle cx="69.82" cy="92.23" r="0.5" fill="#111" fill-opacity="0.75"/>
<circle cx="68.6" cy="101.82" r="0.5" fill="#111" fill-opacity="0.75"/>
<circle cx="67.68" cy="91.31" r="0.5" fill="#111" fill-opacity="0.75"/>
<circle cx="66.86" cy="87.82" r="0.5" fill="#111" fill-opacity="0.75"/>
<circle cx="69.62" cy="99.46" r="0.5" fill="#111" fill-opacity="0.75"/>
<circle cx="70.25" cy="79.3" r="0.5" fill="#111" fill-opacity="0.75"/>
<circle cx="69.03" cy="93.59" r="0.5" fill="#111" fill-opacity="0.75"/>
<circle cx="68.53" cy="98.68" r="0.5" fill="#111" fill-opacity="0.75"/>
<circle cx="67.81" cy="89.36" r="0.5" fill="#111" fill-opacity="0.75"/>
<circle cx="69.4" cy="102.38" r="0.5" fill="#111" fill-opacity="0.75"/>
<circle cx="70.4" cy="85.9" r="0.5" fill="#111" fill-opacity="0.75"/>
<circle cx="66.76" cy="93.28" r="0.5" fill="#111" fill-opacity="0.75"/>
<circle cx="69.82" cy="92.36" r="0.5" fill="#111" fill-opacity="0.75"/>
<circle cx="70.67" cy="85.46" r="0.5" fill="#111" fill-opacity="0.75"/>
<circle cx="70.4" cy="92.13" r="0.5" fill="#111" fill-opacity="0.75"/>
<circle cx="68.08" cy="99.79" r="0.5" fill="#111" fill-opacity="0.75"/>
<circle cx="69.35" cy="90.62" r="0.5" fill="#111" fill-opacity="0.75"/>
<line x1="57.95" y1="133.9" x2="57.95" y2="136.1" stroke="#888" stroke-width="0.6" />
<text x="51" y="145.9" font-family="Liberation Sans, sans-serif" font-size="6.9" font-weight="bold" text-anchor="start" fill="#000" textLength="15.4" lengthAdjust="spacingAndGlyphs" >LUAD</text>
<text x="26" y="152.7" font-family="Liberation Sans, sans-serif" font-size="6.6" font-weight="bold" text-anchor="start" fill="#000" textLength="71" lengthAdjust="spacingAndGlyphs" >(num (T)=483; num(N)=347)</text>
<path d="M47 10 V7 H68.9 V59" fill="none" stroke="#aaa" stroke-width="0.8"/>
<text x="57.9" y="9.6" font-family="Liberation Sans, sans-serif" font-size="7" font-weight="bold" text-anchor="middle" fill="#a02828" >*</text>
<line x1="43.5" y1="12.5" x2="50.5" y2="12.5" stroke="#555" stroke-width="0.6" />
<line x1="44" y1="119.3" x2="50" y2="119.3" stroke="#555" stroke-width="0.6" />
<line x1="65.5" y1="116" x2="72" y2="116" stroke="#555" stroke-width="0.6" />
<line x1="65.5" y1="62" x2="72" y2="62" stroke="#555" stroke-width="0.6" />
<rect x="127.75" y="2.6" width="72.35" height="131.2" fill="none" stroke="#bdbdbd" stroke-width="1.1"/>
<line x1="125.55" y1="128.3" x2="127.75" y2="128.3" stroke="#888" stroke-width="0.6" />
<text transform="translate(120.5,128.3) rotate(-90)" x="0" y="0" dy="0.35em" font-family="Liberation Sans, sans-serif" font-size="6.9" font-weight="bold" text-anchor="middle" fill="#000">0</text>
<line x1="125.55" y1="99" x2="127.75" y2="99" stroke="#888" stroke-width="0.6" />
<text transform="translate(120.5,99) rotate(-90)" x="0" y="0" dy="0.35em" font-family="Liberation Sans, sans-serif" font-size="6.9" font-weight="bold" text-anchor="middle" fill="#000">2</text>
<line x1="125.55" y1="69.7" x2="127.75" y2="69.7" stroke="#888" stroke-width="0.6" />
<text transform="translate(120.5,69.7) rotate(-90)" x="0" y="0" dy="0.35em" font-family="Liberation Sans, sans-serif" font-size="6.9" font-weight="bold" text-anchor="middle" fill="#000">4</text>
<line x1="125.55" y1="40.4" x2="127.75" y2="40.4" stroke="#888" stroke-width="0.6" />
<text transform="translate(120.5,40.4) rotate(-90)" x="0" y="0" dy="0.35em" font-family="Liberation Sans, sans-serif" font-size="6.9" font-weight="bold" text-anchor="middle" fill="#000">6</text>
<line x1="125.55" y1="11.1" x2="127.75" y2="11.1" stroke="#888" stroke-width="0.6" />
<text transform="translate(120.5,11.1) rotate(-90)" x="0" y="0" dy="0.35em" font-family="Liberation Sans, sans-serif" font-size="6.9" font-weight="bold" text-anchor="middle" fill="#000">8</text>
<text transform="translate(110.8,72) rotate(-90)" x="0" y="0" dy="0.35em" font-family="Liberation Sans, sans-serif" font-size="7.1" font-weight="normal" text-anchor="middle" fill="#000" textLength="74.8" lengthAdjust="spacingAndGlyphs" stroke="#000" stroke-width="0.22">Expression-log<tspan font-size="4.6" dy="1.3">2</tspan><tspan dy="-1.3">(TPM+1)</tspan></text>
<rect x="143.75" y="78.9" width="18.15" height="26.6" fill="#ef5f5f" />
<line x1="143.75" y1="96.4" x2="161.9" y2="96.4" stroke="#1a1a1a" stroke-width="0.9" />
<line x1="143.75" y1="128.6" x2="161.9" y2="128.6" stroke="#2a2a2a" stroke-width="1.5" />
<rect x="166" y="85.5" width="17.75" height="12.1" fill="#8a8a8a" />
<line x1="166" y1="91.4" x2="183.75" y2="91.4" stroke="#1a1a1a" stroke-width="0.9" />
<line x1="166" y1="128.6" x2="183.75" y2="128.6" stroke="#2a2a2a" stroke-width="1.5" />
<circle cx="153.53" cy="52.54" r="0.5" fill="#111" fill-opacity="0.75"/>
<circle cx="152.45" cy="118.26" r="0.5" fill="#111" fill-opacity="0.75"/>
<circle cx="154.32" cy="77.27" r="0.5" fill="#111" fill-opacity="0.75"/>
<circle cx="152.3" cy="116.35" r="0.5" fill="#111" fill-opacity="0.75"/>
<circle cx="151.68" cy="96.19" r="0.5" fill="#111" fill-opacity="0.75"/>
<circle cx="151.22" cy="115.91" r="0.5" fill="#111" fill-opacity="0.75"/>
<circle cx="154.57" cy="97.7" r="0.5" fill="#111" fill-opacity="0.75"/>
<circle cx="150.89" cy="97.54" r="0.5" fill="#111" fill-opacity="0.75"/>
<circle cx="154.66" cy="83.83" r="0.5" fill="#111" fill-opacity="0.75"/>
<circle cx="151.86" cy="90.94" r="0.5" fill="#111" fill-opacity="0.75"/>
<circle cx="150.4" cy="89.63" r="0.5" fill="#111" fill-opacity="0.75"/>
<circle cx="153.52" cy="88.97" r="0.5" fill="#111" fill-opacity="0.75"/>
<circle cx="153.74" cy="111.27" r="0.5" fill="#111" fill-opacity="0.75"/>
<circle cx="150.52" cy="113.5" r="0.5" fill="#111" fill-opacity="0.75"/>
<circle cx="154.12" cy="107.07" r="0.5" fill="#111" fill-opacity="0.75"/>
<circle cx="154.13" cy="101.78" r="0.5" fill="#111" fill-opacity="0.75"/>
<circle cx="154.37" cy="87.16" r="0.5" fill="#111" fill-opacity="0.75"/>
<circle cx="154.59" cy="96.68" r="0.5" fill="#111" fill-opacity="0.75"/>
<circle cx="151.19" cy="84.22" r="0.5" fill="#111" fill-opacity="0.75"/>
<circle cx="150.74" cy="95.4" r="0.5" fill="#111" fill-opacity="0.75"/>
<circle cx="154.1" cy="57.71" r="0.5" fill="#111" fill-opacity="0.75"/>
<circle cx="153.24" cy="84.78" r="0.5" fill="#111" fill-opacity="0.75"/>
<circle cx="151.58" cy="80.65" r="0.5" fill="#111" fill-opacity="0.75"/>
<circle cx="150.68" cy="115.46" r="0.5" fill="#111" fill-opacity="0.75"/>
<circle cx="151.18" cy="67.23" r="0.5" fill="#111" fill-opacity="0.75"/>
<circle cx="151.73" cy="74.63" r="0.5" fill="#111" fill-opacity="0.75"/>
<circle cx="151.43" cy="95.75" r="0.5" fill="#111" fill-opacity="0.75"/>
<circle cx="151.56" cy="90.67" r="0.5" fill="#111" fill-opacity="0.75"/>
<circle cx="151.74" cy="96.15" r="0.5" fill="#111" fill-opacity="0.75"/>
<circle cx="154.83" cy="109.55" r="0.5" fill="#111" fill-opacity="0.75"/>
<circle cx="153.17" cy="93.25" r="0.5" fill="#111" fill-opacity="0.75"/>
<circle cx="152.29" cy="73.86" r="0.5" fill="#111" fill-opacity="0.75"/>
<circle cx="153.91" cy="88.75" r="0.5" fill="#111" fill-opacity="0.75"/>
<circle cx="152.78" cy="108.75" r="0.5" fill="#111" fill-opacity="0.75"/>
<circle cx="151.24" cy="68.93" r="0.5" fill="#111" fill-opacity="0.75"/>
<circle cx="154.14" cy="87.23" r="0.5" fill="#111" fill-opacity="0.75"/>
<circle cx="151.02" cy="98.49" r="0.5" fill="#111" fill-opacity="0.75"/>
<circle cx="153.86" cy="80.1" r="0.5" fill="#111" fill-opacity="0.75"/>
<circle cx="154.89" cy="92.31" r="0.5" fill="#111" fill-opacity="0.75"/>
<circle cx="152.56" cy="71.14" r="0.5" fill="#111" fill-opacity="0.75"/>
<circle cx="154.02" cy="91.82" r="0.5" fill="#111" fill-opacity="0.75"/>
<circle cx="151.87" cy="83.85" r="0.5" fill="#111" fill-opacity="0.75"/>
<circle cx="154.19" cy="72.8" r="0.5" fill="#111" fill-opacity="0.75"/>
<circle cx="151.56" cy="95.33" r="0.5" fill="#111" fill-opacity="0.75"/>
<circle cx="151.23" cy="48.55" r="0.5" fill="#111" fill-opacity="0.75"/>
<circle cx="150.73" cy="99.12" r="0.5" fill="#111" fill-opacity="0.75"/>
<circle cx="153.26" cy="112.84" r="0.5" fill="#111" fill-opacity="0.75"/>
<circle cx="153.55" cy="64.23" r="0.5" fill="#111" fill-opacity="0.75"/>
<circle cx="153.98" cy="76.71" r="0.5" fill="#111" fill-opacity="0.75"/>
<circle cx="152.13" cy="104.32" r="0.5" fill="#111" fill-opacity="0.75"/>
<circle cx="152.09" cy="104.77" r="0.5" fill="#111" fill-opacity="0.75"/>
<circle cx="154.46" cy="86.4" r="0.5" fill="#111" fill-opacity="0.75"/>
<circle cx="150.32" cy="97.35" r="0.5" fill="#111" fill-opacity="0.75"/>
<circle cx="154.53" cy="88.51" r="0.5" fill="#111" fill-opacity="0.75"/>
<circle cx="152.61" cy="78.64" r="0.5" fill="#111" fill-opacity="0.75"/>
<circle cx="151.32" cy="120" r="0.5" fill="#111" fill-opacity="0.75"/>
<circle cx="152.41" cy="66.27" r="0.5" fill="#111" fill-opacity="0.75"/>
<circle cx="153.81" cy="122.5" r="0.5" fill="#111" fill-opacity="0.75"/>
<circle cx="153.3" cy="98.45" r="0.5" fill="#111" fill-opacity="0.75"/>
<circle cx="150.95" cy="101.85" r="0.5" fill="#111" fill-opacity="0.75"/>
<circle cx="154.25" cy="79.14" r="0.5" fill="#111" fill-opacity="0.75"/>
<circle cx="151.01" cy="108.22" r="0.5" fill="#111" fill-opacity="0.75"/>
<circle cx="152.31" cy="118.07" r="0.5" fill="#111" fill-opacity="0.75"/>
<circle cx="150.81" cy="88.87" r="0.5" fill="#111" fill-opacity="0.75"/>
<circle cx="152.42" cy="116.24" r="0.5" fill="#111" fill-opacity="0.75"/>
<circle cx="151.12" cy="82.27" r="0.5" fill="#111" fill-opacity="0.75"/>
<circle cx="151.65" cy="101.33" r="0.5" fill="#111" fill-opacity="0.75"/>
<circle cx="150.94" cy="102.64" r="0.5" fill="#111" fill-opacity="0.75"/>
<circle cx="151.77" cy="84.71" r="0.5" fill="#111" fill-opacity="0.75"/>
<circle cx="152.71" cy="80.94" r="0.5" fill="#111" fill-opacity="0.75"/>
<circle cx="151.11" cy="83.74" r="0.5" fill="#111" fill-opacity="0.75"/>
<circle cx="154.88" cy="78.57" r="0.5" fill="#111" fill-opacity="0.75"/>
<circle cx="154.82" cy="93.54" r="0.5" fill="#111" fill-opacity="0.75"/>
<circle cx="150.69" cy="100.82" r="0.5" fill="#111" fill-opacity="0.75"/>
<circle cx="154.02" cy="57.43" r="0.5" fill="#111" fill-opacity="0.75"/>
<circle cx="151.14" cy="94.46" r="0.5" fill="#111" fill-opacity="0.75"/>
<circle cx="153.26" cy="111.87" r="0.5" fill="#111" fill-opacity="0.75"/>
<circle cx="152.06" cy="82.66" r="0.5" fill="#111" fill-opacity="0.75"/>
<circle cx="150.36" cy="84.66" r="0.5" fill="#111" fill-opacity="0.75"/>
<circle cx="153.53" cy="118.5" r="0.5" fill="#111" fill-opacity="0.75"/>
<circle cx="152.6" cy="73.2" r="0.5" fill="#111" fill-opacity="0.75"/>
<circle cx="150.88" cy="106.17" r="0.5" fill="#111" fill-opacity="0.75"/>
<circle cx="153.1" cy="107.51" r="0.5" fill="#111" fill-opacity="0.75"/>
<circle cx="154.56" cy="117.27" r="0.5" fill="#111" fill-opacity="0.75"/>
<circle cx="152.26" cy="75.44" r="0.5" fill="#111" fill-opacity="0.75"/>
<circle cx="152.22" cy="119.63" r="0.5" fill="#111" fill-opacity="0.75"/>
<circle cx="151.3" cy="106.06" r="0.5" fill="#111" fill-opacity="0.75"/>
<circle cx="153.92" cy="98.96" r="0.5" fill="#111" fill-opacity="0.75"/>
<circle cx="153.46" cy="103.46" r="0.5" fill="#111" fill-opacity="0.75"/>
<circle cx="151.7" cy="105.1" r="0.5" fill="#111" fill-opacity="0.75"/>
<circle cx="153.22" cy="108.05" r="0.5" fill="#111" fill-opacity="0.75"/>
<circle cx="153.96" cy="76.81" r="0.5" fill="#111" fill-opacity="0.75"/>
<circle cx="153.62" cy="81.39" r="0.5" fill="#111" fill-opacity="0.75"/>
<circle cx="152.23" cy="101.94" r="0.5" fill="#111" fill-opacity="0.75"/>
<circle cx="152.38" cy="102.51" r="0.5" fill="#111" fill-opacity="0.75"/>
<circle cx="153.44" cy="105.98" r="0.5" fill="#111" fill-opacity="0.75"/>
<circle cx="154.66" cy="105.41" r="0.5" fill="#111" fill-opacity="0.75"/>
<circle cx="153.94" cy="81.51" r="0.5" fill="#111" fill-opacity="0.75"/>
<circle cx="152.07" cy="68.04" r="0.5" fill="#111" fill-opacity="0.75"/>
<circle cx="150.38" cy="89.24" r="0.5" fill="#111" fill-opacity="0.75"/>
<circle cx="153.95" cy="102.85" r="0.5" fill="#111" fill-opacity="0.75"/>
<circle cx="154.71" cy="95.33" r="0.5" fill="#111" fill-opacity="0.75"/>
<circle cx="152.96" cy="100.8" r="0.5" fill="#111" fill-opacity="0.75"/>
<circle cx="152.8" cy="93.43" r="0.5" fill="#111" fill-opacity="0.75"/>
<circle cx="153.27" cy="96.88" r="0.5" fill="#111" fill-opacity="0.75"/>
<circle cx="154.18" cy="113.89" r="0.5" fill="#111" fill-opacity="0.75"/>
<circle cx="154.75" cy="111.06" r="0.5" fill="#111" fill-opacity="0.75"/>
<circle cx="151.21" cy="94.96" r="0.5" fill="#111" fill-opacity="0.75"/>
<circle cx="153.86" cy="99.74" r="0.5" fill="#111" fill-opacity="0.75"/>
<circle cx="150.79" cy="109.16" r="0.5" fill="#111" fill-opacity="0.75"/>
<circle cx="150.47" cy="75.33" r="0.5" fill="#111" fill-opacity="0.75"/>
<circle cx="151.52" cy="94.08" r="0.5" fill="#111" fill-opacity="0.75"/>
<circle cx="152.21" cy="94.83" r="0.5" fill="#111" fill-opacity="0.75"/>
<circle cx="152.22" cy="90.64" r="0.5" fill="#111" fill-opacity="0.75"/>
<circle cx="151.47" cy="97.86" r="0.5" fill="#111" fill-opacity="0.75"/>
<circle cx="151.28" cy="108.58" r="0.5" fill="#111" fill-opacity="0.75"/>
<circle cx="152.73" cy="94.73" r="0.5" fill="#111" fill-opacity="0.75"/>
<circle cx="152.08" cy="86.02" r="0.5" fill="#111" fill-opacity="0.75"/>
<circle cx="151.22" cy="60.1" r="0.5" fill="#111" fill-opacity="0.75"/>
<circle cx="154.09" cy="70.6" r="0.5" fill="#111" fill-opacity="0.75"/>
<circle cx="153.24" cy="69.39" r="0.5" fill="#111" fill-opacity="0.75"/>
<circle cx="151.28" cy="115.5" r="0.5" fill="#111" fill-opacity="0.75"/>
<circle cx="154.83" cy="87.88" r="0.5" fill="#111" fill-opacity="0.75"/>
<circle cx="154.13" cy="108.18" r="0.5" fill="#111" fill-opacity="0.75"/>
<circle cx="154.12" cy="71.57" r="0.5" fill="#111" fill-opacity="0.75"/>
<circle cx="152.83" cy="107.39" r="0.5" fill="#111" fill-opacity="0.75"/>
<circle cx="150.8" cy="89.36" r="0.5" fill="#111" fill-opacity="0.75"/>
<circle cx="154.28" cy="83.8" r="0.5" fill="#111" fill-opacity="0.75"/>
<circle cx="151.48" cy="107.23" r="0.5" fill="#111" fill-opacity="0.75"/>
<circle cx="152.25" cy="102.38" r="0.5" fill="#111" fill-opacity="0.75"/>
<circle cx="151.09" cy="82.58" r="0.5" fill="#111" fill-opacity="0.75"/>
<circle cx="151.55" cy="63.12" r="0.5" fill="#111" fill-opacity="0.75"/>
<circle cx="151.38" cy="91.91" r="0.5" fill="#111" fill-opacity="0.75"/>
<circle cx="152.26" cy="99.1" r="0.5" fill="#111" fill-opacity="0.75"/>
<circle cx="153.26" cy="72.58" r="0.5" fill="#111" fill-opacity="0.75"/>
<circle cx="154.66" cy="101.78" r="0.5" fill="#111" fill-opacity="0.75"/>
<circle cx="154.3" cy="107.03" r="0.5" fill="#111" fill-opacity="0.75"/>
<circle cx="154.55" cy="60.24" r="0.5" fill="#111" fill-opacity="0.75"/>
<circle cx="153.96" cy="80.35" r="0.5" fill="#111" fill-opacity="0.75"/>
<circle cx="153.24" cy="70.45" r="0.5" fill="#111" fill-opacity="0.75"/>
<circle cx="150.27" cy="65.73" r="0.5" fill="#111" fill-opacity="0.75"/>
<circle cx="153.35" cy="47.43" r="0.5" fill="#111" fill-opacity="0.75"/>
<circle cx="151.4" cy="89.16" r="0.5" fill="#111" fill-opacity="0.75"/>
<circle cx="151.32" cy="84.24" r="0.5" fill="#111" fill-opacity="0.75"/>
<circle cx="153.93" cy="86.36" r="0.5" fill="#111" fill-opacity="0.75"/>
<circle cx="154.54" cy="98.41" r="0.5" fill="#111" fill-opacity="0.75"/>
<circle cx="154" cy="83.74" r="0.5" fill="#111" fill-opacity="0.75"/>
<circle cx="153.12" cy="73.39" r="0.5" fill="#111" fill-opacity="0.75"/>
<circle cx="153.95" cy="58.86" r="0.5" fill="#111" fill-opacity="0.75"/>
<circle cx="153.98" cy="111.42" r="0.5" fill="#111" fill-opacity="0.75"/>
<circle cx="153.53" cy="85.98" r="0.5" fill="#111" fill-opacity="0.75"/>
<circle cx="152.75" cy="102.71" r="0.5" fill="#111" fill-opacity="0.75"/>
<circle cx="154.44" cy="93.41" r="0.5" fill="#111" fill-opacity="0.75"/>
<circle cx="152.86" cy="112.06" r="0.5" fill="#111" fill-opacity="0.75"/>
<circle cx="150.87" cy="93.62" r="0.5" fill="#111" fill-opacity="0.75"/>
<circle cx="152.57" cy="79.09" r="0.5" fill="#111" fill-opacity="0.75"/>
<circle cx="150.89" cy="73.23" r="0.5" fill="#111" fill-opacity="0.75"/>
<circle cx="152.56" cy="85.03" r="0.5" fill="#111" fill-opacity="0.75"/>
<circle cx="154.34" cy="115.21" r="0.5" fill="#111" fill-opacity="0.75"/>
<circle cx="150.23" cy="92.15" r="0.5" fill="#111" fill-opacity="0.75"/>
<circle cx="152.9" cy="81.3" r="0.5" fill="#111" fill-opacity="0.75"/>
<circle cx="153.39" cy="109.72" r="0.5" fill="#111" fill-opacity="0.75"/>
<circle cx="152.21" cy="82.84" r="0.5" fill="#111" fill-opacity="0.75"/>
<circle cx="154.81" cy="107.36" r="0.5" fill="#111" fill-opacity="0.75"/>
<circle cx="153.25" cy="69.21" r="0.5" fill="#111" fill-opacity="0.75"/>
<circle cx="150.34" cy="80.51" r="0.5" fill="#111" fill-opacity="0.75"/>
<circle cx="154.67" cy="113.82" r="0.5" fill="#111" fill-opacity="0.75"/>
<circle cx="151.79" cy="110.05" r="0.5" fill="#111" fill-opacity="0.75"/>
<circle cx="152.53" cy="70.66" r="0.5" fill="#111" fill-opacity="0.75"/>
<circle cx="154.51" cy="94.92" r="0.5" fill="#111" fill-opacity="0.75"/>
<circle cx="153.2" cy="63.92" r="0.5" fill="#111" fill-opacity="0.75"/>
<circle cx="151.83" cy="86.25" r="0.5" fill="#111" fill-opacity="0.75"/>
<circle cx="152.48" cy="81.12" r="0.5" fill="#111" fill-opacity="0.75"/>
<circle cx="152.72" cy="105.76" r="0.5" fill="#111" fill-opacity="0.75"/>
<circle cx="152.29" cy="90.78" r="0.5" fill="#111" fill-opacity="0.75"/>
<circle cx="152.23" cy="104.9" r="0.5" fill="#111" fill-opacity="0.75"/>
<circle cx="151.61" cy="103.82" r="0.5" fill="#111" fill-opacity="0.75"/>
<circle cx="152.62" cy="83.67" r="0.5" fill="#111" fill-opacity="0.75"/>
<circle cx="151.5" cy="108.85" r="0.5" fill="#111" fill-opacity="0.75"/>
<circle cx="153.34" cy="94.41" r="0.5" fill="#111" fill-opacity="0.75"/>
<circle cx="151.72" cy="88.13" r="0.5" fill="#111" fill-opacity="0.75"/>
<circle cx="151.64" cy="108.26" r="0.5" fill="#111" fill-opacity="0.75"/>
<circle cx="153.96" cy="114.66" r="0.5" fill="#111" fill-opacity="0.75"/>
<circle cx="150.39" cy="105.84" r="0.5" fill="#111" fill-opacity="0.75"/>
<circle cx="152.82" cy="98.92" r="0.5" fill="#111" fill-opacity="0.75"/>
<circle cx="150.23" cy="77.68" r="0.5" fill="#111" fill-opacity="0.75"/>
<circle cx="151.11" cy="87.65" r="0.5" fill="#111" fill-opacity="0.75"/>
<circle cx="153.36" cy="70.32" r="0.5" fill="#111" fill-opacity="0.75"/>
<circle cx="153.99" cy="104.29" r="0.5" fill="#111" fill-opacity="0.75"/>
<circle cx="153.16" cy="71.15" r="0.5" fill="#111" fill-opacity="0.75"/>
<circle cx="153.21" cy="105.93" r="0.5" fill="#111" fill-opacity="0.75"/>
<circle cx="153.47" cy="100.56" r="0.5" fill="#111" fill-opacity="0.75"/>
<circle cx="151.22" cy="115.69" r="0.5" fill="#111" fill-opacity="0.75"/>
<circle cx="153.86" cy="102.5" r="0.5" fill="#111" fill-opacity="0.75"/>
<circle cx="150.69" cy="109.98" r="0.5" fill="#111" fill-opacity="0.75"/>
<circle cx="153.92" cy="90.3" r="0.5" fill="#111" fill-opacity="0.75"/>
<circle cx="154.59" cy="87.84" r="0.5" fill="#111" fill-opacity="0.75"/>
<circle cx="154.15" cy="102.22" r="0.5" fill="#111" fill-opacity="0.75"/>
<circle cx="153.98" cy="106.98" r="0.5" fill="#111" fill-opacity="0.75"/>
<circle cx="151.65" cy="105.49" r="0.5" fill="#111" fill-opacity="0.75"/>
<circle cx="152.22" cy="97.79" r="0.5" fill="#111" fill-opacity="0.75"/>
<circle cx="153.28" cy="100.51" r="0.5" fill="#111" fill-opacity="0.75"/>
<circle cx="154.68" cy="74.74" r="0.5" fill="#111" fill-opacity="0.75"/>
<circle cx="150.39" cy="70.08" r="0.5" fill="#111" fill-opacity="0.75"/>
<circle cx="150.77" cy="84.43" r="0.5" fill="#111" fill-opacity="0.75"/>
<circle cx="154.61" cy="83.54" r="0.5" fill="#111" fill-opacity="0.75"/>
<circle cx="152.34" cy="114.67" r="0.5" fill="#111" fill-opacity="0.75"/>
<circle cx="153.04" cy="74.36" r="0.5" fill="#111" fill-opacity="0.75"/>
<circle cx="154.7" cy="90.8" r="0.5" fill="#111" fill-opacity="0.75"/>
<circle cx="152.18" cy="71.76" r="0.5" fill="#111" fill-opacity="0.75"/>
<circle cx="150.69" cy="94.91" r="0.5" fill="#111" fill-opacity="0.75"/>
<circle cx="150.93" cy="100.19" r="0.5" fill="#111" fill-opacity="0.75"/>
<circle cx="150.27" cy="102.38" r="0.5" fill="#111" fill-opacity="0.75"/>
<circle cx="150.78" cy="64.63" r="0.5" fill="#111" fill-opacity="0.75"/>
<circle cx="154.84" cy="91.57" r="0.5" fill="#111" fill-opacity="0.75"/>
<circle cx="150.82" cy="60.97" r="0.5" fill="#111" fill-opacity="0.75"/>
<circle cx="150.29" cy="72.97" r="0.5" fill="#111" fill-opacity="0.75"/>
<circle cx="153.72" cy="95.02" r="0.5" fill="#111" fill-opacity="0.75"/>
<circle cx="151.1" cy="105.8" r="0.5" fill="#111" fill-opacity="0.75"/>
<circle cx="153.63" cy="62.38" r="0.5" fill="#111" fill-opacity="0.75"/>
<circle cx="154.31" cy="82.62" r="0.5" fill="#111" fill-opacity="0.75"/>
<circle cx="153.22" cy="93.38" r="0.5" fill="#111" fill-opacity="0.75"/>
<circle cx="153.6" cy="100.03" r="0.5" fill="#111" fill-opacity="0.75"/>
<circle cx="151.42" cy="81.99" r="0.5" fill="#111" fill-opacity="0.75"/>
<circle cx="150.25" cy="64.03" r="0.5" fill="#111" fill-opacity="0.75"/>
<circle cx="150.27" cy="98.88" r="0.5" fill="#111" fill-opacity="0.75"/>
<circle cx="150.58" cy="112.14" r="0.5" fill="#111" fill-opacity="0.75"/>
<circle cx="151.69" cy="119.81" r="0.5" fill="#111" fill-opacity="0.75"/>
<circle cx="154.33" cy="93.83" r="0.5" fill="#111" fill-opacity="0.75"/>
<circle cx="152.53" cy="103.35" r="0.5" fill="#111" fill-opacity="0.75"/>
<circle cx="152.96" cy="76.1" r="0.5" fill="#111" fill-opacity="0.75"/>
<circle cx="152.31" cy="85.98" r="0.5" fill="#111" fill-opacity="0.75"/>
<circle cx="154.03" cy="96.95" r="0.5" fill="#111" fill-opacity="0.75"/>
<circle cx="151.94" cy="101.59" r="0.5" fill="#111" fill-opacity="0.75"/>
<circle cx="152.21" cy="108.24" r="0.5" fill="#111" fill-opacity="0.75"/>
<circle cx="152.05" cy="112.79" r="0.5" fill="#111" fill-opacity="0.75"/>
<circle cx="153.97" cy="82.45" r="0.5" fill="#111" fill-opacity="0.75"/>
<circle cx="150.49" cy="106.32" r="0.5" fill="#111" fill-opacity="0.75"/>
<circle cx="154.87" cy="98.62" r="0.5" fill="#111" fill-opacity="0.75"/>
<circle cx="151.79" cy="102.34" r="0.5" fill="#111" fill-opacity="0.75"/>
<circle cx="154.19" cy="123.52" r="0.5" fill="#111" fill-opacity="0.75"/>
<circle cx="152.26" cy="105.07" r="0.5" fill="#111" fill-opacity="0.75"/>
<circle cx="154.46" cy="101.75" r="0.5" fill="#111" fill-opacity="0.75"/>
<circle cx="153.09" cy="112.29" r="0.5" fill="#111" fill-opacity="0.75"/>
<circle cx="154.5" cy="72.94" r="0.5" fill="#111" fill-opacity="0.75"/>
<circle cx="150.21" cy="87.13" r="0.5" fill="#111" fill-opacity="0.75"/>
<circle cx="151.46" cy="106.39" r="0.5" fill="#111" fill-opacity="0.75"/>
<circle cx="154.12" cy="113.92" r="0.5" fill="#111" fill-opacity="0.75"/>
<circle cx="154.46" cy="81.02" r="0.5" fill="#111" fill-opacity="0.75"/>
<circle cx="154.1" cy="58.96" r="0.5" fill="#111" fill-opacity="0.75"/>
<circle cx="154.36" cy="83.3" r="0.5" fill="#111" fill-opacity="0.75"/>
<circle cx="154.29" cy="105.59" r="0.5" fill="#111" fill-opacity="0.75"/>
<circle cx="154.07" cy="98.8" r="0.5" fill="#111" fill-opacity="0.75"/>
<circle cx="151.86" cy="108.59" r="0.5" fill="#111" fill-opacity="0.75"/>
<circle cx="154.03" cy="72.39" r="0.5" fill="#111" fill-opacity="0.75"/>
<circle cx="151.16" cy="80.56" r="0.5" fill="#111" fill-opacity="0.75"/>
<circle cx="151.32" cy="92.36" r="0.5" fill="#111" fill-opacity="0.75"/>
<circle cx="152.43" cy="113.98" r="0.5" fill="#111" fill-opacity="0.75"/>
<circle cx="151.19" cy="109.56" r="0.5" fill="#111" fill-opacity="0.75"/>
<circle cx="154" cy="93.32" r="0.5" fill="#111" fill-opacity="0.75"/>
<circle cx="152.41" cy="61.88" r="0.5" fill="#111" fill-opacity="0.75"/>
<circle cx="153.91" cy="64.13" r="0.5" fill="#111" fill-opacity="0.75"/>
<circle cx="151.32" cy="75.03" r="0.5" fill="#111" fill-opacity="0.75"/>
<circle cx="154.45" cy="111.13" r="0.5" fill="#111" fill-opacity="0.75"/>
<circle cx="153.03" cy="113.05" r="0.5" fill="#111" fill-opacity="0.75"/>
<circle cx="151.11" cy="95.26" r="0.5" fill="#111" fill-opacity="0.75"/>
<circle cx="153.57" cy="88.31" r="0.5" fill="#111" fill-opacity="0.75"/>
<circle cx="151.94" cy="81.6" r="0.5" fill="#111" fill-opacity="0.75"/>
<circle cx="152.68" cy="109.49" r="0.5" fill="#111" fill-opacity="0.75"/>
<circle cx="150.92" cy="99.73" r="0.5" fill="#111" fill-opacity="0.75"/>
<circle cx="152" cy="75.07" r="0.5" fill="#111" fill-opacity="0.75"/>
<circle cx="153.98" cy="72.04" r="0.5" fill="#111" fill-opacity="0.75"/>
<circle cx="150.95" cy="76.38" r="0.5" fill="#111" fill-opacity="0.75"/>
<circle cx="152.69" cy="106.21" r="0.5" fill="#111" fill-opacity="0.75"/>
<circle cx="150.3" cy="102.07" r="0.5" fill="#111" fill-opacity="0.75"/>
<circle cx="154.36" cy="37.82" r="0.5" fill="#111" fill-opacity="0.75"/>
<circle cx="152.53" cy="80.72" r="0.5" fill="#111" fill-opacity="0.75"/>
<circle cx="153.94" cy="105.42" r="0.5" fill="#111" fill-opacity="0.75"/>
<circle cx="152.24" cy="98.25" r="0.5" fill="#111" fill-opacity="0.75"/>
<circle cx="154.13" cy="62.89" r="0.5" fill="#111" fill-opacity="0.75"/>
<circle cx="154.92" cy="68.34" r="0.5" fill="#111" fill-opacity="0.75"/>
<circle cx="151.1" cy="61" r="0.5" fill="#111" fill-opacity="0.75"/>
<circle cx="151" cy="57.25" r="0.5" fill="#111" fill-opacity="0.75"/>
<circle cx="152.89" cy="57.22" r="0.5" fill="#111" fill-opacity="0.75"/>
<circle cx="154.45" cy="58.77" r="0.5" fill="#111" fill-opacity="0.75"/>
<circle cx="154.65" cy="52.62" r="0.5" fill="#111" fill-opacity="0.75"/>
<circle cx="152.09" cy="44.54" r="0.5" fill="#111" fill-opacity="0.75"/>
<circle cx="150.7" cy="53.92" r="0.5" fill="#111" fill-opacity="0.75"/>
<circle cx="152.92" cy="51.07" r="0.5" fill="#111" fill-opacity="0.75"/>
<circle cx="153.3" cy="63.48" r="0.5" fill="#111" fill-opacity="0.75"/>
<circle cx="152.07" cy="42.02" r="0.5" fill="#111" fill-opacity="0.75"/>
<circle cx="152.34" cy="66.22" r="0.5" fill="#111" fill-opacity="0.75"/>
<circle cx="155.06" cy="42.51" r="0.5" fill="#111" fill-opacity="0.75"/>
<circle cx="151.38" cy="60.26" r="0.5" fill="#111" fill-opacity="0.75"/>
<circle cx="151.86" cy="57.27" r="0.5" fill="#111" fill-opacity="0.75"/>
<circle cx="154.29" cy="37.5" r="0.5" fill="#111" fill-opacity="0.75"/>
<circle cx="153.65" cy="38.75" r="0.5" fill="#111" fill-opacity="0.75"/>
<circle cx="153.33" cy="54.16" r="0.5" fill="#111" fill-opacity="0.75"/>
<circle cx="150.82" cy="56.46" r="0.5" fill="#111" fill-opacity="0.75"/>
<circle cx="153.87" cy="61.32" r="0.5" fill="#111" fill-opacity="0.75"/>
<circle cx="151.59" cy="42.51" r="0.5" fill="#111" fill-opacity="0.75"/>
<circle cx="153.06" cy="68.28" r="0.5" fill="#111" fill-opacity="0.75"/>
<circle cx="151.72" cy="60.6" r="0.5" fill="#111" fill-opacity="0.75"/>
<circle cx="151.39" cy="67.13" r="0.5" fill="#111" fill-opacity="0.75"/>
<circle cx="150.94" cy="50.17" r="0.5" fill="#111" fill-opacity="0.75"/>
<circle cx="151.29" cy="50.28" r="0.5" fill="#111" fill-opacity="0.75"/>
<circle cx="150.16" cy="48.57" r="0.5" fill="#111" fill-opacity="0.75"/>
<circle cx="153.69" cy="45.38" r="0.5" fill="#111" fill-opacity="0.75"/>
<circle cx="154.74" cy="59.7" r="0.5" fill="#111" fill-opacity="0.75"/>
<circle cx="151.2" cy="57.55" r="0.5" fill="#111" fill-opacity="0.75"/>
<circle cx="150.6" cy="13.1" r="0.5" fill="#111" fill-opacity="0.75"/>
<circle cx="151.6" cy="23" r="0.5" fill="#111" fill-opacity="0.75"/>
<circle cx="152.5" cy="28.5" r="0.5" fill="#111" fill-opacity="0.75"/>
<circle cx="153.5" cy="31" r="0.5" fill="#111" fill-opacity="0.75"/>
<circle cx="152.5" cy="33.5" r="0.5" fill="#111" fill-opacity="0.75"/>
<circle cx="152" cy="36" r="0.5" fill="#111" fill-opacity="0.75"/>
<circle cx="176.87" cy="75.23" r="0.5" fill="#111" fill-opacity="0.75"/>
<circle cx="173.27" cy="98.49" r="0.5" fill="#111" fill-opacity="0.75"/>
<circle cx="177.06" cy="95.14" r="0.5" fill="#111" fill-opacity="0.75"/>
<circle cx="176.64" cy="90.09" r="0.5" fill="#111" fill-opacity="0.75"/>
<circle cx="174.23" cy="98.06" r="0.5" fill="#111" fill-opacity="0.75"/>
<circle cx="176.55" cy="98.35" r="0.5" fill="#111" fill-opacity="0.75"/>
<circle cx="173.29" cy="103.62" r="0.5" fill="#111" fill-opacity="0.75"/>
<circle cx="173.66" cy="89.64" r="0.5" fill="#111" fill-opacity="0.75"/>
<circle cx="175.26" cy="78.35" r="0.5" fill="#111" fill-opacity="0.75"/>
<circle cx="173.29" cy="86.53" r="0.5" fill="#111" fill-opacity="0.75"/>
<circle cx="174.58" cy="86.62" r="0.5" fill="#111" fill-opacity="0.75"/>
<circle cx="173.35" cy="96.4" r="0.5" fill="#111" fill-opacity="0.75"/>
<circle cx="174.21" cy="93.61" r="0.5" fill="#111" fill-opacity="0.75"/>
<circle cx="173.41" cy="74.71" r="0.5" fill="#111" fill-opacity="0.75"/>
<circle cx="176.94" cy="99.06" r="0.5" fill="#111" fill-opacity="0.75"/>
<circle cx="173.15" cy="90.95" r="0.5" fill="#111" fill-opacity="0.75"/>
<circle cx="176.9" cy="88.4" r="0.5" fill="#111" fill-opacity="0.75"/>
<circle cx="175.81" cy="91.78" r="0.5" fill="#111" fill-opacity="0.75"/>
<circle cx="173.97" cy="88.96" r="0.5" fill="#111" fill-opacity="0.75"/>
<circle cx="173.84" cy="81.66" r="0.5" fill="#111" fill-opacity="0.75"/>
<circle cx="177.36" cy="88.88" r="0.5" fill="#111" fill-opacity="0.75"/>
<circle cx="177.39" cy="83.4" r="0.5" fill="#111" fill-opacity="0.75"/>
<circle cx="173.99" cy="87.83" r="0.5" fill="#111" fill-opacity="0.75"/>
<circle cx="176.9" cy="93.19" r="0.5" fill="#111" fill-opacity="0.75"/>
<circle cx="174.01" cy="78.14" r="0.5" fill="#111" fill-opacity="0.75"/>
<circle cx="177.3" cy="86.38" r="0.5" fill="#111" fill-opacity="0.75"/>
<circle cx="174.24" cy="75.52" r="0.5" fill="#111" fill-opacity="0.75"/>
<circle cx="173.27" cy="89.78" r="0.5" fill="#111" fill-opacity="0.75"/>
<circle cx="175.13" cy="74.77" r="0.5" fill="#111" fill-opacity="0.75"/>
<circle cx="173.49" cy="91.18" r="0.5" fill="#111" fill-opacity="0.75"/>
<circle cx="173.65" cy="109.18" r="0.5" fill="#111" fill-opacity="0.75"/>
<circle cx="175.34" cy="83.71" r="0.5" fill="#111" fill-opacity="0.75"/>
<circle cx="176.3" cy="87.8" r="0.5" fill="#111" fill-opacity="0.75"/>
<circle cx="176.02" cy="87.16" r="0.5" fill="#111" fill-opacity="0.75"/>
<circle cx="173.02" cy="90.21" r="0.5" fill="#111" fill-opacity="0.75"/>
<circle cx="175.52" cy="88.01" r="0.5" fill="#111" fill-opacity="0.75"/>
<circle cx="173.59" cy="98.41" r="0.5" fill="#111" fill-opacity="0.75"/>
<circle cx="175.54" cy="91.18" r="0.5" fill="#111" fill-opacity="0.75"/>
<circle cx="175.4" cy="95.59" r="0.5" fill="#111" fill-opacity="0.75"/>
<circle cx="173.57" cy="106.88" r="0.5" fill="#111" fill-opacity="0.75"/>
<circle cx="174.56" cy="78.3" r="0.5" fill="#111" fill-opacity="0.75"/>
<circle cx="176.06" cy="85.65" r="0.5" fill="#111" fill-opacity="0.75"/>
<circle cx="174.21" cy="76.31" r="0.5" fill="#111" fill-opacity="0.75"/>
<circle cx="176.64" cy="85.91" r="0.5" fill="#111" fill-opacity="0.75"/>
<circle cx="172.67" cy="84.63" r="0.5" fill="#111" fill-opacity="0.75"/>
<circle cx="176.97" cy="99.09" r="0.5" fill="#111" fill-opacity="0.75"/>
<circle cx="173.88" cy="109.01" r="0.5" fill="#111" fill-opacity="0.75"/>
<circle cx="173.49" cy="88.77" r="0.5" fill="#111" fill-opacity="0.75"/>
<circle cx="173.38" cy="87.26" r="0.5" fill="#111" fill-opacity="0.75"/>
<circle cx="174.38" cy="98.71" r="0.5" fill="#111" fill-opacity="0.75"/>
<circle cx="175.1" cy="92.08" r="0.5" fill="#111" fill-opacity="0.75"/>
<circle cx="174.74" cy="91.86" r="0.5" fill="#111" fill-opacity="0.75"/>
<circle cx="176.03" cy="95.82" r="0.5" fill="#111" fill-opacity="0.75"/>
<circle cx="176.52" cy="91.82" r="0.5" fill="#111" fill-opacity="0.75"/>
<circle cx="176.01" cy="86.25" r="0.5" fill="#111" fill-opacity="0.75"/>
<circle cx="174.43" cy="97.17" r="0.5" fill="#111" fill-opacity="0.75"/>
<circle cx="176.79" cy="91.36" r="0.5" fill="#111" fill-opacity="0.75"/>
<circle cx="177.18" cy="94.51" r="0.5" fill="#111" fill-opacity="0.75"/>
<circle cx="175.15" cy="101.93" r="0.5" fill="#111" fill-opacity="0.75"/>
<circle cx="175.18" cy="91.04" r="0.5" fill="#111" fill-opacity="0.75"/>
<circle cx="173.67" cy="68.57" r="0.5" fill="#111" fill-opacity="0.75"/>
<circle cx="173.48" cy="88.4" r="0.5" fill="#111" fill-opacity="0.75"/>
<circle cx="176.52" cy="86.05" r="0.5" fill="#111" fill-opacity="0.75"/>
<circle cx="172.74" cy="87.37" r="0.5" fill="#111" fill-opacity="0.75"/>
<circle cx="173.54" cy="80.19" r="0.5" fill="#111" fill-opacity="0.75"/>
<circle cx="172.68" cy="83.62" r="0.5" fill="#111" fill-opacity="0.75"/>
<circle cx="175.11" cy="100.73" r="0.5" fill="#111" fill-opacity="0.75"/>
<circle cx="175.97" cy="98.12" r="0.5" fill="#111" fill-opacity="0.75"/>
<circle cx="176.04" cy="77.22" r="0.5" fill="#111" fill-opacity="0.75"/>
<circle cx="172.82" cy="80.7" r="0.5" fill="#111" fill-opacity="0.75"/>
<circle cx="175" cy="84.04" r="0.5" fill="#111" fill-opacity="0.75"/>
<circle cx="173.94" cy="84.22" r="0.5" fill="#111" fill-opacity="0.75"/>
<circle cx="173.26" cy="84.92" r="0.5" fill="#111" fill-opacity="0.75"/>
<circle cx="175.44" cy="85.16" r="0.5" fill="#111" fill-opacity="0.75"/>
<circle cx="175.35" cy="88.19" r="0.5" fill="#111" fill-opacity="0.75"/>
<circle cx="176.18" cy="95.18" r="0.5" fill="#111" fill-opacity="0.75"/>
<circle cx="177.1" cy="82.95" r="0.5" fill="#111" fill-opacity="0.75"/>
<circle cx="174.47" cy="77.27" r="0.5" fill="#111" fill-opacity="0.75"/>
<circle cx="175.12" cy="106.15" r="0.5" fill="#111" fill-opacity="0.75"/>
<circle cx="174.5" cy="83.32" r="0.5" fill="#111" fill-opacity="0.75"/>
<circle cx="174.23" cy="77.18" r="0.5" fill="#111" fill-opacity="0.75"/>
<circle cx="173.75" cy="96.87" r="0.5" fill="#111" fill-opacity="0.75"/>
<circle cx="177.31" cy="96.17" r="0.5" fill="#111" fill-opacity="0.75"/>
<circle cx="176.46" cy="83.29" r="0.5" fill="#111" fill-opacity="0.75"/>
<circle cx="176.67" cy="77.6" r="0.5" fill="#111" fill-opacity="0.75"/>
<circle cx="172.86" cy="99.8" r="0.5" fill="#111" fill-opacity="0.75"/>
<circle cx="177.08" cy="93.79" r="0.5" fill="#111" fill-opacity="0.75"/>
<circle cx="175.64" cy="91.34" r="0.5" fill="#111" fill-opacity="0.75"/>
<circle cx="174.35" cy="82.18" r="0.5" fill="#111" fill-opacity="0.75"/>
<circle cx="174.68" cy="94.65" r="0.5" fill="#111" fill-opacity="0.75"/>
<circle cx="175.02" cy="92.02" r="0.5" fill="#111" fill-opacity="0.75"/>
<circle cx="177.25" cy="86.61" r="0.5" fill="#111" fill-opacity="0.75"/>
<circle cx="176.33" cy="90.75" r="0.5" fill="#111" fill-opacity="0.75"/>
<circle cx="176.48" cy="79.9" r="0.5" fill="#111" fill-opacity="0.75"/>
<circle cx="176.84" cy="96.19" r="0.5" fill="#111" fill-opacity="0.75"/>
<circle cx="175.68" cy="89.64" r="0.5" fill="#111" fill-opacity="0.75"/>
<circle cx="173.88" cy="92.92" r="0.5" fill="#111" fill-opacity="0.75"/>
<circle cx="175.2" cy="94.44" r="0.5" fill="#111" fill-opacity="0.75"/>
<circle cx="177.04" cy="97.71" r="0.5" fill="#111" fill-opacity="0.75"/>
<circle cx="175.1" cy="96.21" r="0.5" fill="#111" fill-opacity="0.75"/>
<circle cx="174.68" cy="95.99" r="0.5" fill="#111" fill-opacity="0.75"/>
<circle cx="174.07" cy="84.49" r="0.5" fill="#111" fill-opacity="0.75"/>
<circle cx="175.71" cy="93.58" r="0.5" fill="#111" fill-opacity="0.75"/>
<circle cx="177.19" cy="82.79" r="0.5" fill="#111" fill-opacity="0.75"/>
<circle cx="175.07" cy="83.28" r="0.5" fill="#111" fill-opacity="0.75"/>
<circle cx="175.16" cy="92.52" r="0.5" fill="#111" fill-opacity="0.75"/>
<circle cx="173.31" cy="81.6" r="0.5" fill="#111" fill-opacity="0.75"/>
<circle cx="174.01" cy="88.06" r="0.5" fill="#111" fill-opacity="0.75"/>
<circle cx="174.55" cy="88.11" r="0.5" fill="#111" fill-opacity="0.75"/>
<circle cx="173.02" cy="92.95" r="0.5" fill="#111" fill-opacity="0.75"/>
<circle cx="175.22" cy="85.01" r="0.5" fill="#111" fill-opacity="0.75"/>
<circle cx="175.34" cy="84.94" r="0.5" fill="#111" fill-opacity="0.75"/>
<circle cx="175.72" cy="101.58" r="0.5" fill="#111" fill-opacity="0.75"/>
<circle cx="174.81" cy="87.2" r="0.5" fill="#111" fill-opacity="0.75"/>
<circle cx="175.23" cy="78.19" r="0.5" fill="#111" fill-opacity="0.75"/>
<circle cx="174.09" cy="98.89" r="0.5" fill="#111" fill-opacity="0.75"/>
<circle cx="173.76" cy="97.82" r="0.5" fill="#111" fill-opacity="0.75"/>
<circle cx="174.44" cy="89.51" r="0.5" fill="#111" fill-opacity="0.75"/>
<circle cx="175.41" cy="81.01" r="0.5" fill="#111" fill-opacity="0.75"/>
<circle cx="176.74" cy="83.21" r="0.5" fill="#111" fill-opacity="0.75"/>
<circle cx="173.74" cy="90.77" r="0.5" fill="#111" fill-opacity="0.75"/>
<circle cx="173.97" cy="100.96" r="0.5" fill="#111" fill-opacity="0.75"/>
<circle cx="177.34" cy="94.94" r="0.5" fill="#111" fill-opacity="0.75"/>
<circle cx="173.36" cy="95.65" r="0.5" fill="#111" fill-opacity="0.75"/>
<circle cx="172.92" cy="76.88" r="0.5" fill="#111" fill-opacity="0.75"/>
<circle cx="172.9" cy="84.85" r="0.5" fill="#111" fill-opacity="0.75"/>
<circle cx="174.46" cy="98.23" r="0.5" fill="#111" fill-opacity="0.75"/>
<circle cx="173.12" cy="104.71" r="0.5" fill="#111" fill-opacity="0.75"/>
<circle cx="173.68" cy="86.1" r="0.5" fill="#111" fill-opacity="0.75"/>
<circle cx="173.34" cy="77.45" r="0.5" fill="#111" fill-opacity="0.75"/>
<circle cx="174.22" cy="95.02" r="0.5" fill="#111" fill-opacity="0.75"/>
<circle cx="175.56" cy="99.3" r="0.5" fill="#111" fill-opacity="0.75"/>
<circle cx="176.68" cy="80.84" r="0.5" fill="#111" fill-opacity="0.75"/>
<circle cx="176.15" cy="86.79" r="0.5" fill="#111" fill-opacity="0.75"/>
<circle cx="176.17" cy="100.95" r="0.5" fill="#111" fill-opacity="0.75"/>
<circle cx="176.37" cy="90.77" r="0.5" fill="#111" fill-opacity="0.75"/>
<circle cx="176" cy="101.35" r="0.5" fill="#111" fill-opacity="0.75"/>
<circle cx="176.78" cy="87.44" r="0.5" fill="#111" fill-opacity="0.75"/>
<circle cx="172.62" cy="93.72" r="0.5" fill="#111" fill-opacity="0.75"/>
<circle cx="174.99" cy="90.23" r="0.5" fill="#111" fill-opacity="0.75"/>
<circle cx="177.22" cy="103" r="0.5" fill="#111" fill-opacity="0.75"/>
<circle cx="176.36" cy="99.61" r="0.5" fill="#111" fill-opacity="0.75"/>
<circle cx="176.79" cy="95.38" r="0.5" fill="#111" fill-opacity="0.75"/>
<circle cx="174.77" cy="98.09" r="0.5" fill="#111" fill-opacity="0.75"/>
<circle cx="174.8" cy="96.74" r="0.5" fill="#111" fill-opacity="0.75"/>
<circle cx="174.48" cy="92.61" r="0.5" fill="#111" fill-opacity="0.75"/>
<circle cx="175.27" cy="98.6" r="0.5" fill="#111" fill-opacity="0.75"/>
<circle cx="176.38" cy="97.18" r="0.5" fill="#111" fill-opacity="0.75"/>
<circle cx="176.68" cy="86.24" r="0.5" fill="#111" fill-opacity="0.75"/>
<circle cx="173.48" cy="100.91" r="0.5" fill="#111" fill-opacity="0.75"/>
<circle cx="174.06" cy="91.36" r="0.5" fill="#111" fill-opacity="0.75"/>
<circle cx="175.39" cy="84.33" r="0.5" fill="#111" fill-opacity="0.75"/>
<circle cx="173.02" cy="82.29" r="0.5" fill="#111" fill-opacity="0.75"/>
<circle cx="176.65" cy="84.56" r="0.5" fill="#111" fill-opacity="0.75"/>
<circle cx="176.62" cy="95.12" r="0.5" fill="#111" fill-opacity="0.75"/>
<circle cx="174.65" cy="85.64" r="0.5" fill="#111" fill-opacity="0.75"/>
<circle cx="176.97" cy="92.9" r="0.5" fill="#111" fill-opacity="0.75"/>
<circle cx="175.31" cy="88.65" r="0.5" fill="#111" fill-opacity="0.75"/>
<circle cx="174.99" cy="91.2" r="0.5" fill="#111" fill-opacity="0.75"/>
<circle cx="175.18" cy="78.09" r="0.5" fill="#111" fill-opacity="0.75"/>
<circle cx="177.39" cy="98.65" r="0.5" fill="#111" fill-opacity="0.75"/>
<circle cx="175.89" cy="101.93" r="0.5" fill="#111" fill-opacity="0.75"/>
<circle cx="174.47" cy="92.54" r="0.5" fill="#111" fill-opacity="0.75"/>
<circle cx="174.29" cy="98.78" r="0.5" fill="#111" fill-opacity="0.75"/>
<circle cx="177.15" cy="82.17" r="0.5" fill="#111" fill-opacity="0.75"/>
<circle cx="173.08" cy="96.16" r="0.5" fill="#111" fill-opacity="0.75"/>
<circle cx="174.4" cy="100.99" r="0.5" fill="#111" fill-opacity="0.75"/>
<circle cx="175.36" cy="100.55" r="0.5" fill="#111" fill-opacity="0.75"/>
<circle cx="176.82" cy="84.8" r="0.5" fill="#111" fill-opacity="0.75"/>
<circle cx="174.71" cy="81.48" r="0.5" fill="#111" fill-opacity="0.75"/>
<circle cx="175.6" cy="93.63" r="0.5" fill="#111" fill-opacity="0.75"/>
<circle cx="175.14" cy="83.32" r="0.5" fill="#111" fill-opacity="0.75"/>
<circle cx="176.52" cy="91.58" r="0.5" fill="#111" fill-opacity="0.75"/>
<circle cx="177.3" cy="87.71" r="0.5" fill="#111" fill-opacity="0.75"/>
<circle cx="176.56" cy="84.63" r="0.5" fill="#111" fill-opacity="0.75"/>
<circle cx="176.89" cy="95.62" r="0.5" fill="#111" fill-opacity="0.75"/>
<circle cx="175.91" cy="91.72" r="0.5" fill="#111" fill-opacity="0.75"/>
<circle cx="176.86" cy="79.91" r="0.5" fill="#111" fill-opacity="0.75"/>
<circle cx="173.99" cy="95.89" r="0.5" fill="#111" fill-opacity="0.75"/>
<circle cx="175.06" cy="88.94" r="0.5" fill="#111" fill-opacity="0.75"/>
<circle cx="173.48" cy="97.05" r="0.5" fill="#111" fill-opacity="0.75"/>
<circle cx="175.62" cy="91.56" r="0.5" fill="#111" fill-opacity="0.75"/>
<circle cx="177.37" cy="97.92" r="0.5" fill="#111" fill-opacity="0.75"/>
<circle cx="175.66" cy="96.33" r="0.5" fill="#111" fill-opacity="0.75"/>
<circle cx="176.38" cy="82.65" r="0.5" fill="#111" fill-opacity="0.75"/>
<circle cx="174.07" cy="89" r="0.5" fill="#111" fill-opacity="0.75"/>
<circle cx="174.06" cy="91.67" r="0.5" fill="#111" fill-opacity="0.75"/>
<circle cx="176.64" cy="92.11" r="0.5" fill="#111" fill-opacity="0.75"/>
<circle cx="173.54" cy="102.57" r="0.5" fill="#111" fill-opacity="0.75"/>
<circle cx="174.99" cy="98.11" r="0.5" fill="#111" fill-opacity="0.75"/>
<circle cx="175.7" cy="97.91" r="0.5" fill="#111" fill-opacity="0.75"/>
<circle cx="175.15" cy="93.65" r="0.5" fill="#111" fill-opacity="0.75"/>
<circle cx="174.57" cy="79.89" r="0.5" fill="#111" fill-opacity="0.75"/>
<circle cx="173.18" cy="91.59" r="0.5" fill="#111" fill-opacity="0.75"/>
<circle cx="173.11" cy="83.18" r="0.5" fill="#111" fill-opacity="0.75"/>
<circle cx="173.08" cy="79.02" r="0.5" fill="#111" fill-opacity="0.75"/>
<circle cx="176.55" cy="86.26" r="0.5" fill="#111" fill-opacity="0.75"/>
<circle cx="175.54" cy="82" r="0.5" fill="#111" fill-opacity="0.75"/>
<circle cx="172.66" cy="90.29" r="0.5" fill="#111" fill-opacity="0.75"/>
<circle cx="176.3" cy="94.33" r="0.5" fill="#111" fill-opacity="0.75"/>
<circle cx="174.27" cy="75.27" r="0.5" fill="#111" fill-opacity="0.75"/>
<circle cx="173.35" cy="62.83" r="0.5" fill="#111" fill-opacity="0.75"/>
<circle cx="177.02" cy="71.44" r="0.5" fill="#111" fill-opacity="0.75"/>
<circle cx="175.41" cy="68.5" r="0.5" fill="#111" fill-opacity="0.75"/>
<circle cx="174.43" cy="74.89" r="0.5" fill="#111" fill-opacity="0.75"/>
<circle cx="172.77" cy="65.96" r="0.5" fill="#111" fill-opacity="0.75"/>
<circle cx="177.3" cy="65.18" r="0.5" fill="#111" fill-opacity="0.75"/>
<circle cx="174.7" cy="76.08" r="0.5" fill="#111" fill-opacity="0.75"/>
<circle cx="172.72" cy="74.4" r="0.5" fill="#111" fill-opacity="0.75"/>
<circle cx="177.15" cy="74.21" r="0.5" fill="#111" fill-opacity="0.75"/>
<circle cx="176.99" cy="68.05" r="0.5" fill="#111" fill-opacity="0.75"/>
<circle cx="176.58" cy="75.2" r="0.5" fill="#111" fill-opacity="0.75"/>
<circle cx="177.3" cy="73.8" r="0.5" fill="#111" fill-opacity="0.75"/>
<circle cx="174.98" cy="63.65" r="0.5" fill="#111" fill-opacity="0.75"/>
<circle cx="174.45" cy="67.01" r="0.5" fill="#111" fill-opacity="0.75"/>
<line x1="163.93" y1="133.8" x2="163.93" y2="136" stroke="#888" stroke-width="0.6" />
<text x="156.2" y="145.9" font-family="Liberation Sans, sans-serif" font-size="6.9" font-weight="bold" text-anchor="start" fill="#000" textLength="14.4" lengthAdjust="spacingAndGlyphs" >LUSC</text>
<text x="129.6" y="152.7" font-family="Liberation Sans, sans-serif" font-size="6.6" font-weight="bold" text-anchor="start" fill="#000" textLength="73.9" lengthAdjust="spacingAndGlyphs" >(num (T)=486; num(N)=338)</text>
<line x1="148.5" y1="38.3" x2="157" y2="38.3" stroke="#555" stroke-width="0.6" />
<line x1="149" y1="123.6" x2="156.5" y2="123.6" stroke="#555" stroke-width="0.6" />
<line x1="171" y1="67.9" x2="179" y2="67.9" stroke="#555" stroke-width="0.6" />
<line x1="171" y1="113" x2="179" y2="113" stroke="#555" stroke-width="0.6" />
<line x1="228.4" y1="23.1" x2="228.4" y2="133" stroke="#1a1a1a" stroke-width="1.1" />
<line x1="227.9" y1="132.9" x2="302.3" y2="132.9" stroke="#1a1a1a" stroke-width="1.2" />
<line x1="226.2" y1="23.28" x2="228.4" y2="23.28" stroke="#1a1a1a" stroke-width="1.0" />
<text x="223.9" y="25.18" font-family="Liberation Sans, sans-serif" font-size="6.8" font-weight="bold" text-anchor="end" fill="#000" >11</text>
<line x1="226.2" y1="50.81" x2="228.4" y2="50.81" stroke="#1a1a1a" stroke-width="1.0" />
<text x="223.9" y="52.71" font-family="Liberation Sans, sans-serif" font-size="6.8" font-weight="bold" text-anchor="end" fill="#000" >10</text>
<line x1="226.2" y1="78.34" x2="228.4" y2="78.34" stroke="#1a1a1a" stroke-width="1.0" />
<text x="223.9" y="80.24" font-family="Liberation Sans, sans-serif" font-size="6.8" font-weight="bold" text-anchor="end" fill="#000" >9</text>
<line x1="226.2" y1="105.87" x2="228.4" y2="105.87" stroke="#1a1a1a" stroke-width="1.0" />
<text x="223.9" y="107.77" font-family="Liberation Sans, sans-serif" font-size="6.8" font-weight="bold" text-anchor="end" fill="#000" >8</text>
<line x1="226.2" y1="133.4" x2="228.4" y2="133.4" stroke="#1a1a1a" stroke-width="1.0" />
<text x="223.9" y="132.9" font-family="Liberation Sans, sans-serif" font-size="6.8" font-weight="bold" text-anchor="end" fill="#000" >7</text>
<line x1="248.5" y1="133.1" x2="248.5" y2="135" stroke="#1a1a1a" stroke-width="0.8" />
<line x1="289.4" y1="133.1" x2="289.4" y2="135" stroke="#1a1a1a" stroke-width="0.8" />
<text transform="translate(212.9,78.6) rotate(-90)" x="0" y="0" dy="0.35em" font-family="Liberation Sans, sans-serif" font-size="7.2" font-weight="normal" text-anchor="middle" fill="#000" textLength="48.6" lengthAdjust="spacingAndGlyphs" stroke="#000" stroke-width="0.2">Expression value</text>
<text x="267.6" y="7.2" font-family="Liberation Sans, sans-serif" font-size="6.9" font-weight="bold" text-anchor="middle" fill="#000" textLength="30.2" lengthAdjust="spacingAndGlyphs" >GSE32863</text>
<line x1="251.4" y1="22.3" x2="287.4" y2="22.3" stroke="#444" stroke-width="1.1" />
<circle cx="266.9" cy="19.2" r="1.55" fill="#000" />
<circle cx="271.7" cy="19.2" r="1.55" fill="#000" />
<circle cx="276.5" cy="19.2" r="1.55" fill="#000" />
<line x1="248.5" y1="108.14" x2="289.2" y2="29.06" stroke="#1e1e1e" stroke-width="0.42" stroke-opacity="0.9"/>
<line x1="248.5" y1="104.89" x2="289.2" y2="32.92" stroke="#1e1e1e" stroke-width="0.42" stroke-opacity="0.9"/>
<line x1="248.5" y1="93.85" x2="289.2" y2="43.38" stroke="#1e1e1e" stroke-width="0.42" stroke-opacity="0.9"/>
<line x1="248.5" y1="107.74" x2="289.2" y2="51.36" stroke="#1e1e1e" stroke-width="0.42" stroke-opacity="0.9"/>
<line x1="248.5" y1="106.46" x2="289.2" y2="54.66" stroke="#1e1e1e" stroke-width="0.42" stroke-opacity="0.9"/>
<line x1="248.5" y1="104.05" x2="289.2" y2="58.24" stroke="#1e1e1e" stroke-width="0.42" stroke-opacity="0.9"/>
<line x1="248.5" y1="116.25" x2="289.2" y2="63.47" stroke="#1e1e1e" stroke-width="0.42" stroke-opacity="0.9"/>
<line x1="248.5" y1="106.34" x2="289.2" y2="67.88" stroke="#1e1e1e" stroke-width="0.42" stroke-opacity="0.9"/>
<line x1="248.5" y1="102.76" x2="289.2" y2="72.28" stroke="#1e1e1e" stroke-width="0.42" stroke-opacity="0.9"/>
<line x1="248.5" y1="97.82" x2="289.2" y2="115.15" stroke="#1e1e1e" stroke-width="0.42" stroke-opacity="0.9"/>
<line x1="248.5" y1="112.65" x2="289.2" y2="115.4" stroke="#1e1e1e" stroke-width="0.42" stroke-opacity="0.9"/>
<line x1="248.5" y1="97.32" x2="289.2" y2="84.29" stroke="#1e1e1e" stroke-width="0.42" stroke-opacity="0.9"/>
<line x1="248.5" y1="120.57" x2="289.2" y2="72.43" stroke="#1e1e1e" stroke-width="0.42" stroke-opacity="0.9"/>
<line x1="248.5" y1="92.62" x2="289.2" y2="86" stroke="#1e1e1e" stroke-width="0.42" stroke-opacity="0.9"/>
<line x1="248.5" y1="103.2" x2="289.2" y2="110.96" stroke="#1e1e1e" stroke-width="0.42" stroke-opacity="0.9"/>
<line x1="248.5" y1="121.38" x2="289.2" y2="91.62" stroke="#1e1e1e" stroke-width="0.42" stroke-opacity="0.9"/>
<line x1="248.5" y1="120.03" x2="289.2" y2="108.97" stroke="#1e1e1e" stroke-width="0.42" stroke-opacity="0.9"/>
<line x1="248.5" y1="114.51" x2="289.2" y2="120.26" stroke="#1e1e1e" stroke-width="0.42" stroke-opacity="0.9"/>
<line x1="248.5" y1="107.79" x2="289.2" y2="95.76" stroke="#1e1e1e" stroke-width="0.42" stroke-opacity="0.9"/>
<line x1="248.5" y1="96.33" x2="289.2" y2="92.05" stroke="#1e1e1e" stroke-width="0.42" stroke-opacity="0.9"/>
<line x1="248.5" y1="102.45" x2="289.2" y2="92.95" stroke="#1e1e1e" stroke-width="0.42" stroke-opacity="0.9"/>
<line x1="248.5" y1="101.78" x2="289.2" y2="94.95" stroke="#1e1e1e" stroke-width="0.42" stroke-opacity="0.9"/>
<line x1="248.5" y1="113.41" x2="289.2" y2="71.82" stroke="#1e1e1e" stroke-width="0.42" stroke-opacity="0.9"/>
<line x1="248.5" y1="91.68" x2="289.2" y2="78.14" stroke="#1e1e1e" stroke-width="0.42" stroke-opacity="0.9"/>
<line x1="248.5" y1="100.4" x2="289.2" y2="102.03" stroke="#1e1e1e" stroke-width="0.42" stroke-opacity="0.9"/>
<line x1="248.5" y1="114.88" x2="289.2" y2="103.42" stroke="#1e1e1e" stroke-width="0.42" stroke-opacity="0.9"/>
<line x1="248.5" y1="119.71" x2="289.2" y2="81.2" stroke="#1e1e1e" stroke-width="0.42" stroke-opacity="0.9"/>
<line x1="248.5" y1="109.71" x2="289.2" y2="77.87" stroke="#1e1e1e" stroke-width="0.42" stroke-opacity="0.9"/>
<line x1="248.5" y1="110.13" x2="289.2" y2="73.39" stroke="#1e1e1e" stroke-width="0.42" stroke-opacity="0.9"/>
<line x1="248.5" y1="96.18" x2="289.2" y2="123.85" stroke="#1e1e1e" stroke-width="0.42" stroke-opacity="0.9"/>
<line x1="248.5" y1="115.49" x2="289.2" y2="75.29" stroke="#1e1e1e" stroke-width="0.42" stroke-opacity="0.9"/>
<line x1="248.5" y1="107.6" x2="289.2" y2="72.51" stroke="#1e1e1e" stroke-width="0.42" stroke-opacity="0.9"/>
<line x1="248.5" y1="109.8" x2="289.2" y2="116.69" stroke="#1e1e1e" stroke-width="0.42" stroke-opacity="0.9"/>
<line x1="248.5" y1="102.78" x2="289.2" y2="80.69" stroke="#1e1e1e" stroke-width="0.42" stroke-opacity="0.9"/>
<line x1="248.5" y1="113.67" x2="289.2" y2="115.65" stroke="#1e1e1e" stroke-width="0.42" stroke-opacity="0.9"/>
<line x1="248.5" y1="111.77" x2="289.2" y2="73.15" stroke="#1e1e1e" stroke-width="0.42" stroke-opacity="0.9"/>
<line x1="248.5" y1="98.88" x2="289.2" y2="113.51" stroke="#1e1e1e" stroke-width="0.42" stroke-opacity="0.9"/>
<line x1="248.5" y1="114.38" x2="289.2" y2="114.67" stroke="#1e1e1e" stroke-width="0.42" stroke-opacity="0.9"/>
<line x1="248.5" y1="120.02" x2="289.2" y2="79.92" stroke="#1e1e1e" stroke-width="0.42" stroke-opacity="0.9"/>
<line x1="248.5" y1="116.46" x2="289.2" y2="90.21" stroke="#1e1e1e" stroke-width="0.42" stroke-opacity="0.9"/>
<line x1="248.5" y1="108.29" x2="289.2" y2="108.95" stroke="#1e1e1e" stroke-width="0.42" stroke-opacity="0.9"/>
<line x1="248.5" y1="99.67" x2="289.2" y2="112.65" stroke="#1e1e1e" stroke-width="0.42" stroke-opacity="0.9"/>
<line x1="248.5" y1="102.34" x2="289.2" y2="113.61" stroke="#1e1e1e" stroke-width="0.42" stroke-opacity="0.9"/>
<line x1="248.5" y1="109.1" x2="289.2" y2="107.65" stroke="#1e1e1e" stroke-width="0.42" stroke-opacity="0.9"/>
<line x1="248.5" y1="113.67" x2="289.2" y2="72.88" stroke="#1e1e1e" stroke-width="0.42" stroke-opacity="0.9"/>
<line x1="248.5" y1="97.51" x2="289.2" y2="102.62" stroke="#1e1e1e" stroke-width="0.42" stroke-opacity="0.9"/>
<line x1="248.5" y1="95.04" x2="289.2" y2="107.77" stroke="#1e1e1e" stroke-width="0.42" stroke-opacity="0.9"/>
<line x1="248.5" y1="109.9" x2="289.2" y2="77.56" stroke="#1e1e1e" stroke-width="0.42" stroke-opacity="0.9"/>
<line x1="248.5" y1="102.4" x2="289.2" y2="114.71" stroke="#1e1e1e" stroke-width="0.42" stroke-opacity="0.9"/>
<line x1="248.5" y1="91.88" x2="289.2" y2="107.63" stroke="#1e1e1e" stroke-width="0.42" stroke-opacity="0.9"/>
<line x1="248.5" y1="114.02" x2="289.2" y2="80.93" stroke="#1e1e1e" stroke-width="0.42" stroke-opacity="0.9"/>
<line x1="248.5" y1="111.88" x2="289.2" y2="103.03" stroke="#1e1e1e" stroke-width="0.42" stroke-opacity="0.9"/>
<line x1="248.5" y1="119.61" x2="289.2" y2="115.44" stroke="#1e1e1e" stroke-width="0.42" stroke-opacity="0.9"/>
<line x1="248.5" y1="104.19" x2="289.2" y2="105.94" stroke="#1e1e1e" stroke-width="0.42" stroke-opacity="0.9"/>
<line x1="248.5" y1="103.63" x2="289.2" y2="99.14" stroke="#1e1e1e" stroke-width="0.42" stroke-opacity="0.9"/>
<line x1="248.5" y1="108.11" x2="289.2" y2="73.34" stroke="#1e1e1e" stroke-width="0.42" stroke-opacity="0.9"/>
<line x1="248.5" y1="107.19" x2="289.2" y2="89.52" stroke="#1e1e1e" stroke-width="0.42" stroke-opacity="0.9"/>
<line x1="248.5" y1="95.6" x2="289.2" y2="109.41" stroke="#1e1e1e" stroke-width="0.42" stroke-opacity="0.9"/>
<line x1="248.5" y1="117.17" x2="289.2" y2="75.37" stroke="#1e1e1e" stroke-width="0.42" stroke-opacity="0.9"/>
<line x1="248.5" y1="54.39" x2="289.2" y2="37.32" stroke="#777" stroke-width="0.8" />
<text x="251.2" y="144.9" font-family="Liberation Sans, sans-serif" font-size="6.9" font-weight="bold" text-anchor="middle" fill="#000" textLength="21.8" lengthAdjust="spacingAndGlyphs" >Normal</text>
<text x="250" y="152.6" font-family="Liberation Sans, sans-serif" font-size="6.5" font-weight="bold" text-anchor="middle" fill="#000" textLength="16.1" lengthAdjust="spacingAndGlyphs" >(n=60)</text>
<text x="287.2" y="144.9" font-family="Liberation Sans, sans-serif" font-size="6.9" font-weight="bold" text-anchor="middle" fill="#000" textLength="15.2" lengthAdjust="spacingAndGlyphs" >LUAD</text>
<text x="289.1" y="152.6" font-family="Liberation Sans, sans-serif" font-size="6.5" font-weight="bold" text-anchor="middle" fill="#000" textLength="16.6" lengthAdjust="spacingAndGlyphs" >(n=60)</text>
<line x1="325.6" y1="24.2" x2="325.6" y2="132" stroke="#333" stroke-width="1.4" />
<line x1="324.9" y1="132" x2="397.6" y2="132" stroke="#1a1a1a" stroke-width="1.7" />
<line x1="323.7" y1="25.3" x2="325.6" y2="25.3" stroke="#1a1a1a" stroke-width="1.1" />
<text transform="translate(321.8,25.3) rotate(-90)" x="0" y="0" dy="0.35em" font-family="Liberation Sans, sans-serif" font-size="5.8" font-weight="normal" text-anchor="middle" fill="#000">12</text>
<line x1="323.7" y1="55.7" x2="325.6" y2="55.7" stroke="#1a1a1a" stroke-width="1.1" />
<text transform="translate(321.8,55.7) rotate(-90)" x="0" y="0" dy="0.35em" font-family="Liberation Sans, sans-serif" font-size="5.8" font-weight="normal" text-anchor="middle" fill="#000">10</text>
<line x1="323.7" y1="86.1" x2="325.6" y2="86.1" stroke="#1a1a1a" stroke-width="1.1" />
<text transform="translate(321.8,86.1) rotate(-90)" x="0" y="0" dy="0.35em" font-family="Liberation Sans, sans-serif" font-size="5.8" font-weight="normal" text-anchor="middle" fill="#000">8</text>
<line x1="323.7" y1="116.5" x2="325.6" y2="116.5" stroke="#1a1a1a" stroke-width="1.1" />
<text transform="translate(321.8,116.5) rotate(-90)" x="0" y="0" dy="0.35em" font-family="Liberation Sans, sans-serif" font-size="5.8" font-weight="normal" text-anchor="middle" fill="#000">6</text>
<line x1="343.3" y1="131.9" x2="343.3" y2="133.8" stroke="#1a1a1a" stroke-width="0.8" />
<line x1="379.4" y1="131.9" x2="379.4" y2="133.8" stroke="#1a1a1a" stroke-width="0.8" />
<text transform="translate(314.4,78.8) rotate(-90)" x="0" y="0" dy="0.35em" font-family="Liberation Sans, sans-serif" font-size="7.2" font-weight="normal" text-anchor="middle" fill="#000" textLength="48.2" lengthAdjust="spacingAndGlyphs" stroke="#000" stroke-width="0.2">Expression value</text>
<text x="359.5" y="7.2" font-family="Liberation Sans, sans-serif" font-size="6.9" font-weight="bold" text-anchor="middle" fill="#000" textLength="34" lengthAdjust="spacingAndGlyphs" >GSE116959</text>
<line x1="341.2" y1="27.8" x2="379.8" y2="27.8" stroke="#444" stroke-width="1.1" />
<circle cx="356.6" cy="24" r="1.55" fill="#000" />
<circle cx="361.4" cy="24" r="1.55" fill="#000" />
<circle cx="366.2" cy="24" r="1.55" fill="#000" />
<path d="M342.1 100.96L343.9 100.96L343 102.22Z" fill="#222" />
<path d="M343.6 103.46L345.4 103.46L344.5 104.72Z" fill="#222" />
<path d="M341.6 105.46L343.4 105.46L342.5 106.72Z" fill="#222" />
<path d="M343.1 106.96L344.9 106.96L344 108.22Z" fill="#222" />
<path d="M342.6 108.96L344.4 108.96L343.5 110.22Z" fill="#222" />
<path d="M341.9 111.46L343.7 111.46L342.8 112.72Z" fill="#222" />
<path d="M343.1 114.46L344.9 114.46L344 115.72Z" fill="#222" />
<path d="M342.5 116.96L344.3 116.96L343.4 118.22Z" fill="#222" />
<path d="M344.1 104.96L345.9 104.96L345 106.22Z" fill="#222" />
<path d="M340.9 102.46L342.7 102.46L341.8 103.72Z" fill="#222" />
<path d="M343.7 109.96L345.5 109.96L344.6 111.22Z" fill="#222" />
<line x1="337.3" y1="102.5" x2="349.7" y2="102.5" stroke="#111" stroke-width="1.0" />
<line x1="331" y1="107.5" x2="355.6" y2="107.5" stroke="#111" stroke-width="1.0" />
<line x1="337.3" y1="112.5" x2="349.7" y2="112.5" stroke="#111" stroke-width="1.0" />
<line x1="343.5" y1="102.5" x2="343.5" y2="112.5" stroke="#666" stroke-width="0.6" />
<path d="M378.55 54.6L380.65 54.6L379.6 56.2Z" fill="none" stroke="#333" stroke-width="0.6"/>
<path d="M377.45 63.8L379.55 63.8L378.5 65.4Z" fill="none" stroke="#333" stroke-width="0.6"/>
<path d="M378.45 66.6L380.55 66.6L379.5 68.2Z" fill="none" stroke="#333" stroke-width="0.6"/>
<path d="M379.55 69.3L381.65 69.3L380.6 70.9Z" fill="none" stroke="#333" stroke-width="0.6"/>
<path d="M378.35 71.9L380.45 71.9L379.4 73.5Z" fill="none" stroke="#333" stroke-width="0.6"/>
<path d="M377.55 74.5L379.65 74.5L378.6 76.1Z" fill="none" stroke="#333" stroke-width="0.6"/>
<path d="M379.15 76.6L381.25 76.6L380.2 78.2Z" fill="none" stroke="#333" stroke-width="0.6"/>
<path d="M380.67 96.43L382.77 96.43L381.72 98.03Z" fill="none" stroke="#333" stroke-width="0.6"/>
<path d="M381.55 101.17L383.65 101.17L382.6 102.77Z" fill="none" stroke="#333" stroke-width="0.6"/>
<path d="M378.21 80.1L380.31 80.1L379.26 81.7Z" fill="none" stroke="#333" stroke-width="0.6"/>
<path d="M379.49 105.24L381.59 105.24L380.54 106.84Z" fill="none" stroke="#333" stroke-width="0.6"/>
<path d="M375.74 104.07L377.84 104.07L376.79 105.67Z" fill="none" stroke="#333" stroke-width="0.6"/>
<path d="M376.12 92.2L378.22 92.2L377.17 93.8Z" fill="none" stroke="#333" stroke-width="0.6"/>
<path d="M379.13 94.25L381.23 94.25L380.18 95.85Z" fill="none" stroke="#333" stroke-width="0.6"/>
<path d="M382.28 86.99L384.38 86.99L383.33 88.59Z" fill="none" stroke="#333" stroke-width="0.6"/>
<path d="M376.07 100.36L378.17 100.36L377.12 101.96Z" fill="none" stroke="#333" stroke-width="0.6"/>
<path d="M375.02 96.28L377.12 96.28L376.07 97.88Z" fill="none" stroke="#333" stroke-width="0.6"/>
<path d="M381.05 79.35L383.15 79.35L382.1 80.95Z" fill="none" stroke="#333" stroke-width="0.6"/>
<path d="M375.83 85.06L377.93 85.06L376.88 86.66Z" fill="none" stroke="#333" stroke-width="0.6"/>
<path d="M382.51 84.93L384.61 84.93L383.56 86.53Z" fill="none" stroke="#333" stroke-width="0.6"/>
<path d="M382.74 98.29L384.84 98.29L383.79 99.89Z" fill="none" stroke="#333" stroke-width="0.6"/>
<path d="M375.38 89.23L377.48 89.23L376.43 90.83Z" fill="none" stroke="#333" stroke-width="0.6"/>
<path d="M374.45 83.31L376.55 83.31L375.5 84.91Z" fill="none" stroke="#333" stroke-width="0.6"/>
<path d="M379.4 87.59L381.5 87.59L380.45 89.19Z" fill="none" stroke="#333" stroke-width="0.6"/>
<path d="M378.32 101.81L380.42 101.81L379.37 103.41Z" fill="none" stroke="#333" stroke-width="0.6"/>
<path d="M374.37 98.68L376.47 98.68L375.42 100.28Z" fill="none" stroke="#333" stroke-width="0.6"/>
<path d="M375.11 106.12L377.21 106.12L376.16 107.72Z" fill="none" stroke="#333" stroke-width="0.6"/>
<path d="M379.17 89.37L381.27 89.37L380.22 90.97Z" fill="none" stroke="#333" stroke-width="0.6"/>
<path d="M375.28 79.55L377.38 79.55L376.33 81.15Z" fill="none" stroke="#333" stroke-width="0.6"/>
<path d="M380.74 82.27L382.84 82.27L381.79 83.87Z" fill="none" stroke="#333" stroke-width="0.6"/>
<path d="M376.98 81.81L379.08 81.81L378.03 83.41Z" fill="none" stroke="#333" stroke-width="0.6"/>
<path d="M376.72 94.29L378.82 94.29L377.77 95.89Z" fill="none" stroke="#333" stroke-width="0.6"/>
<path d="M380.92 106.78L383.02 106.78L381.97 108.38Z" fill="none" stroke="#333" stroke-width="0.6"/>
<path d="M380.56 92.72L382.66 92.72L381.61 94.32Z" fill="none" stroke="#333" stroke-width="0.6"/>
<path d="M382.94 89.67L385.04 89.67L383.99 91.27Z" fill="none" stroke="#333" stroke-width="0.6"/>
<path d="M379.77 103.22L381.87 103.22L380.82 104.82Z" fill="none" stroke="#333" stroke-width="0.6"/>
<path d="M377.72 97.6L379.82 97.6L378.77 99.2Z" fill="none" stroke="#333" stroke-width="0.6"/>
<path d="M380.16 85.32L382.26 85.32L381.21 86.92Z" fill="none" stroke="#333" stroke-width="0.6"/>
<path d="M382.67 95.27L384.77 95.27L383.72 96.87Z" fill="none" stroke="#333" stroke-width="0.6"/>
<path d="M379.09 99.79L381.19 99.79L380.14 101.39Z" fill="none" stroke="#333" stroke-width="0.6"/>
<path d="M377.6 86.32L379.7 86.32L378.65 87.92Z" fill="none" stroke="#333" stroke-width="0.6"/>
<path d="M374.43 87.15L376.53 87.15L375.48 88.75Z" fill="none" stroke="#333" stroke-width="0.6"/>
<path d="M374.34 93.51L376.44 93.51L375.39 95.11Z" fill="none" stroke="#333" stroke-width="0.6"/>
<path d="M378.45 110.1L380.55 110.1L379.5 111.7Z" fill="none" stroke="#333" stroke-width="0.6"/>
<path d="M379.15 112.3L381.25 112.3L380.2 113.9Z" fill="none" stroke="#333" stroke-width="0.6"/>
<path d="M377.75 115.3L379.85 115.3L378.8 116.9Z" fill="none" stroke="#333" stroke-width="0.6"/>
<path d="M378.75 118.3L380.85 118.3L379.8 119.9Z" fill="none" stroke="#333" stroke-width="0.6"/>
<path d="M377.95 121.3L380.05 121.3L379 122.9Z" fill="none" stroke="#333" stroke-width="0.6"/>
<path d="M378.45 124.3L380.55 124.3L379.5 125.9Z" fill="none" stroke="#333" stroke-width="0.6"/>
<line x1="373.7" y1="79.5" x2="385.6" y2="79.5" stroke="#111" stroke-width="1.0" />
<line x1="368" y1="94.5" x2="391.2" y2="94.5" stroke="#111" stroke-width="1.0" />
<line x1="373.7" y1="109.5" x2="385.6" y2="109.5" stroke="#111" stroke-width="1.0" />
<text x="342" y="144.9" font-family="Liberation Sans, sans-serif" font-size="6.9" font-weight="bold" text-anchor="middle" fill="#000" textLength="21.8" lengthAdjust="spacingAndGlyphs" >Normal</text>
<text x="340.4" y="152.6" font-family="Liberation Sans, sans-serif" font-size="6.5" font-weight="bold" text-anchor="middle" fill="#000" textLength="17.1" lengthAdjust="spacingAndGlyphs" >(n=11)</text>
<text x="379.9" y="144.9" font-family="Liberation Sans, sans-serif" font-size="6.9" font-weight="bold" text-anchor="middle" fill="#000" textLength="15.8" lengthAdjust="spacingAndGlyphs" >LUAD</text>
<text x="381.9" y="152.6" font-family="Liberation Sans, sans-serif" font-size="6.5" font-weight="bold" text-anchor="middle" fill="#000" textLength="17" lengthAdjust="spacingAndGlyphs" >(n=57)</text>
<line x1="21.4" y1="169.1" x2="21.4" y2="263.9" stroke="#333" stroke-width="1.3" />
<line x1="20.8" y1="263.9" x2="98.1" y2="263.9" stroke="#1a1a1a" stroke-width="1.7" />
<line x1="19.4" y1="169.5" x2="21.4" y2="169.5" stroke="#1a1a1a" stroke-width="1.1" />
<text transform="translate(17.2,169.2) rotate(-90)" x="0" y="0" dy="0.35em" font-family="Liberation Sans, sans-serif" font-size="5.3" font-weight="normal" text-anchor="middle" fill="#000" stroke="#000" stroke-width="0.15">12</text>
<line x1="19.4" y1="190.5" x2="21.4" y2="190.5" stroke="#1a1a1a" stroke-width="1.1" />
<text transform="translate(17.2,190.2) rotate(-90)" x="0" y="0" dy="0.35em" font-family="Liberation Sans, sans-serif" font-size="5.3" font-weight="normal" text-anchor="middle" fill="#000" stroke="#000" stroke-width="0.15">10</text>
<line x1="19.4" y1="211.5" x2="21.4" y2="211.5" stroke="#1a1a1a" stroke-width="1.1" />
<text transform="translate(17.2,211.2) rotate(-90)" x="0" y="0" dy="0.35em" font-family="Liberation Sans, sans-serif" font-size="5.3" font-weight="normal" text-anchor="middle" fill="#000" stroke="#000" stroke-width="0.15">8</text>
<line x1="19.4" y1="232.5" x2="21.4" y2="232.5" stroke="#1a1a1a" stroke-width="1.1" />
<text transform="translate(17.2,232.2) rotate(-90)" x="0" y="0" dy="0.35em" font-family="Liberation Sans, sans-serif" font-size="5.3" font-weight="normal" text-anchor="middle" fill="#000" stroke="#000" stroke-width="0.15">6</text>
<line x1="19.4" y1="253.5" x2="21.4" y2="253.5" stroke="#1a1a1a" stroke-width="1.1" />
<text transform="translate(17.2,253.2) rotate(-90)" x="0" y="0" dy="0.35em" font-family="Liberation Sans, sans-serif" font-size="5.3" font-weight="normal" text-anchor="middle" fill="#000" stroke="#000" stroke-width="0.15">4</text>
<line x1="40.3" y1="263.7" x2="40.3" y2="265.6" stroke="#1a1a1a" stroke-width="0.8" />
<line x1="78.6" y1="263.7" x2="78.6" y2="265.6" stroke="#1a1a1a" stroke-width="0.8" />
<text transform="translate(8.4,217.2) rotate(-90)" x="0" y="0" dy="0.35em" font-family="Liberation Sans, sans-serif" font-size="7" font-weight="normal" text-anchor="middle" fill="#000" textLength="49.5" lengthAdjust="spacingAndGlyphs" stroke="#000" stroke-width="0.1">Expression value</text>
<text x="59.6" y="171.5" font-family="Liberation Sans, sans-serif" font-size="6.9" font-weight="bold" text-anchor="middle" fill="#000" textLength="29.6" lengthAdjust="spacingAndGlyphs" >GSE37745</text>
<line x1="40" y1="187.6" x2="79.3" y2="187.6" stroke="#444" stroke-width="1.1" />
<circle cx="55.8" cy="184" r="1.55" fill="#000" />
<circle cx="60.6" cy="184" r="1.55" fill="#000" />
<circle cx="65.4" cy="184" r="1.55" fill="#000" />
<path d="M39.3 189.7L41.3 189.7L40.3 191.1Z" fill="#111" />
<path d="M39.3 196.9L41.3 196.9L40.3 198.3Z" fill="#111" />
<path d="M39.3 199.2L41.3 199.2L40.3 200.6Z" fill="#111" />
<path d="M38.7 201.88L40.3 202.8L41.9 201.88" fill="none" stroke="#111" stroke-width="0.9" stroke-opacity="0.85"/>
<path d="M38.2 201.52L40.4 201.52L39.3 203.06Z" fill="#111" />
<path d="M40.2 201.52L42.4 201.52L41.3 203.06Z" fill="#111" />
<path d="M32.7 203.16L40.3 206L47.9 203.16" fill="none" stroke="#111" stroke-width="0.9" stroke-opacity="0.85"/>
<path d="M32.2 202.8L34.4 202.8L33.3 204.34Z" fill="#111" />
<path d="M34.2 203.44L36.4 203.44L35.3 204.98Z" fill="#111" />
<path d="M36.2 204.08L38.4 204.08L37.3 205.62Z" fill="#111" />
<path d="M38.2 204.72L40.4 204.72L39.3 206.26Z" fill="#111" />
<path d="M40.2 204.72L42.4 204.72L41.3 206.26Z" fill="#111" />
<path d="M42.2 204.08L44.4 204.08L43.3 205.62Z" fill="#111" />
<path d="M44.2 203.44L46.4 203.44L45.3 204.98Z" fill="#111" />
<path d="M46.2 202.8L48.4 202.8L47.3 204.34Z" fill="#111" />
<path d="M29.7 205.4L40.3 209.2L50.9 205.4" fill="none" stroke="#111" stroke-width="0.9" stroke-opacity="0.85"/>
<path d="M29.2 205.04L31.4 205.04L30.3 206.58Z" fill="#111" />
<path d="M31.2 205.68L33.4 205.68L32.3 207.22Z" fill="#111" />
<path d="M33.2 206.32L35.4 206.32L34.3 207.86Z" fill="#111" />
<path d="M35.2 206.96L37.4 206.96L36.3 208.5Z" fill="#111" />
<path d="M37.2 207.6L39.4 207.6L38.3 209.14Z" fill="#111" />
<path d="M39.2 208.24L41.4 208.24L40.3 209.78Z" fill="#111" />
<path d="M41.2 207.6L43.4 207.6L42.3 209.14Z" fill="#111" />
<path d="M43.2 206.96L45.4 206.96L44.3 208.5Z" fill="#111" />
<path d="M45.2 206.32L47.4 206.32L46.3 207.86Z" fill="#111" />
<path d="M47.2 205.68L49.4 205.68L48.3 207.22Z" fill="#111" />
<path d="M49.2 205.04L51.4 205.04L50.3 206.58Z" fill="#111" />
<path d="M32.7 210.46L40.3 213.3L47.9 210.46" fill="none" stroke="#111" stroke-width="0.9" stroke-opacity="0.85"/>
<path d="M32.2 210.1L34.4 210.1L33.3 211.64Z" fill="#111" />
<path d="M34.2 210.74L36.4 210.74L35.3 212.28Z" fill="#111" />
<path d="M36.2 211.38L38.4 211.38L37.3 212.92Z" fill="#111" />
<path d="M38.2 212.02L40.4 212.02L39.3 213.56Z" fill="#111" />
<path d="M40.2 212.02L42.4 212.02L41.3 213.56Z" fill="#111" />
<path d="M42.2 211.38L44.4 211.38L43.3 212.92Z" fill="#111" />
<path d="M44.2 210.74L46.4 210.74L45.3 212.28Z" fill="#111" />
<path d="M46.2 210.1L48.4 210.1L47.3 211.64Z" fill="#111" />
<path d="M32.7 213.36L40.3 216.2L47.9 213.36" fill="none" stroke="#111" stroke-width="0.9" stroke-opacity="0.85"/>
<path d="M32.2 213L34.4 213L33.3 214.54Z" fill="#111" />
<path d="M34.2 213.64L36.4 213.64L35.3 215.18Z" fill="#111" />
<path d="M36.2 214.28L38.4 214.28L37.3 215.82Z" fill="#111" />
<path d="M38.2 214.92L40.4 214.92L39.3 216.46Z" fill="#111" />
<path d="M40.2 214.92L42.4 214.92L41.3 216.46Z" fill="#111" />
<path d="M42.2 214.28L44.4 214.28L43.3 215.82Z" fill="#111" />
<path d="M44.2 213.64L46.4 213.64L45.3 215.18Z" fill="#111" />
<path d="M46.2 213L48.4 213L47.3 214.54Z" fill="#111" />
<path d="M33.7 216.28L40.3 218.8L46.9 216.28" fill="none" stroke="#111" stroke-width="0.9" stroke-opacity="0.85"/>
<path d="M33.2 215.92L35.4 215.92L34.3 217.46Z" fill="#111" />
<path d="M35.2 216.56L37.4 216.56L36.3 218.1Z" fill="#111" />
<path d="M37.2 217.2L39.4 217.2L38.3 218.74Z" fill="#111" />
<path d="M39.2 217.84L41.4 217.84L40.3 219.38Z" fill="#111" />
<path d="M41.2 217.2L43.4 217.2L42.3 218.74Z" fill="#111" />
<path d="M43.2 216.56L45.4 216.56L44.3 218.1Z" fill="#111" />
<path d="M45.2 215.92L47.4 215.92L46.3 217.46Z" fill="#111" />
<path d="M32.7 222.06L40.3 224.9L47.9 222.06" fill="none" stroke="#111" stroke-width="0.9" stroke-opacity="0.85"/>
<path d="M32.2 221.7L34.4 221.7L33.3 223.24Z" fill="#111" />
<path d="M34.2 222.34L36.4 222.34L35.3 223.88Z" fill="#111" />
<path d="M36.2 222.98L38.4 222.98L37.3 224.52Z" fill="#111" />
<path d="M38.2 223.62L40.4 223.62L39.3 225.16Z" fill="#111" />
<path d="M40.2 223.62L42.4 223.62L41.3 225.16Z" fill="#111" />
<path d="M42.2 222.98L44.4 222.98L43.3 224.52Z" fill="#111" />
<path d="M44.2 222.34L46.4 222.34L45.3 223.88Z" fill="#111" />
<path d="M46.2 221.7L48.4 221.7L47.3 223.24Z" fill="#111" />
<path d="M33.7 225.38L40.3 227.9L46.9 225.38" fill="none" stroke="#111" stroke-width="0.9" stroke-opacity="0.85"/>
<path d="M33.2 225.02L35.4 225.02L34.3 226.56Z" fill="#111" />
<path d="M35.2 225.66L37.4 225.66L36.3 227.2Z" fill="#111" />
<path d="M37.2 226.3L39.4 226.3L38.3 227.84Z" fill="#111" />
<path d="M39.2 226.94L41.4 226.94L40.3 228.48Z" fill="#111" />
<path d="M41.2 226.3L43.4 226.3L42.3 227.84Z" fill="#111" />
<path d="M43.2 225.66L45.4 225.66L44.3 227.2Z" fill="#111" />
<path d="M45.2 225.02L47.4 225.02L46.3 226.56Z" fill="#111" />
<path d="M34.7 228.7L40.3 230.9L45.9 228.7" fill="none" stroke="#111" stroke-width="0.9" stroke-opacity="0.85"/>
<path d="M34.2 228.34L36.4 228.34L35.3 229.88Z" fill="#111" />
<path d="M36.2 228.98L38.4 228.98L37.3 230.52Z" fill="#111" />
<path d="M38.2 229.62L40.4 229.62L39.3 231.16Z" fill="#111" />
<path d="M40.2 229.62L42.4 229.62L41.3 231.16Z" fill="#111" />
<path d="M42.2 228.98L44.4 228.98L43.3 230.52Z" fill="#111" />
<path d="M44.2 228.34L46.4 228.34L45.3 229.88Z" fill="#111" />
<path d="M35.7 235.82L40.3 237.7L44.9 235.82" fill="none" stroke="#111" stroke-width="0.9" stroke-opacity="0.85"/>
<path d="M35.2 235.46L37.4 235.46L36.3 237Z" fill="#111" />
<path d="M37.2 236.1L39.4 236.1L38.3 237.64Z" fill="#111" />
<path d="M39.2 236.74L41.4 236.74L40.3 238.28Z" fill="#111" />
<path d="M41.2 236.1L43.4 236.1L42.3 237.64Z" fill="#111" />
<path d="M43.2 235.46L45.4 235.46L44.3 237Z" fill="#111" />
<path d="M35.7 238.42L40.3 240.3L44.9 238.42" fill="none" stroke="#111" stroke-width="0.9" stroke-opacity="0.85"/>
<path d="M35.2 238.06L37.4 238.06L36.3 239.6Z" fill="#111" />
<path d="M37.2 238.7L39.4 238.7L38.3 240.24Z" fill="#111" />
<path d="M39.2 239.34L41.4 239.34L40.3 240.88Z" fill="#111" />
<path d="M41.2 238.7L43.4 238.7L42.3 240.24Z" fill="#111" />
<path d="M43.2 238.06L45.4 238.06L44.3 239.6Z" fill="#111" />
<path d="M37.7 241.26L40.3 242.5L42.9 241.26" fill="none" stroke="#111" stroke-width="0.9" stroke-opacity="0.85"/>
<path d="M37.2 240.9L39.4 240.9L38.3 242.44Z" fill="#111" />
<path d="M39.2 241.54L41.4 241.54L40.3 243.08Z" fill="#111" />
<path d="M41.2 240.9L43.4 240.9L42.3 242.44Z" fill="#111" />
<path d="M39.3 244.1L41.3 244.1L40.3 245.5Z" fill="#111" />
<path d="M39.3 251.4L41.3 251.4L40.3 252.8Z" fill="#111" />
<path d="M39.3 251.9L41.3 251.9L40.3 253.3Z" fill="#111" />
<path d="M39.3 258.4L41.3 258.4L40.3 259.8Z" fill="#111" />
<line x1="27.3" y1="221.5" x2="53.5" y2="221.5" stroke="#000" stroke-width="1.2" />
<line x1="33.8" y1="234.5" x2="46.3" y2="234.5" stroke="#000" stroke-width="1.0" />
<path d="M77.7 196.5L79.7 196.5L78.7 197.9Z" fill="#111" />
<path d="M77.7 206L79.7 206L78.7 207.4Z" fill="#111" />
<path d="M77.7 208.3L79.7 208.3L78.7 209.7Z" fill="#111" />
<path d="M77.7 217.1L79.7 217.1L78.7 218.5Z" fill="#111" />
<path d="M77.7 221L79.7 221L78.7 222.4Z" fill="#111" />
<path d="M77.7 226.4L79.7 226.4L78.7 227.8Z" fill="#111" />
<path d="M77.1 229.08L78.7 230L80.3 229.08" fill="none" stroke="#111" stroke-width="0.9" stroke-opacity="0.85"/>
<path d="M76.6 228.72L78.8 228.72L77.7 230.26Z" fill="#111" />
<path d="M78.6 228.72L80.8 228.72L79.7 230.26Z" fill="#111" />
<path d="M76.1 231.36L78.7 232.6L81.3 231.36" fill="none" stroke="#111" stroke-width="0.9" stroke-opacity="0.85"/>
<path d="M75.6 231L77.8 231L76.7 232.54Z" fill="#111" />
<path d="M77.6 231.64L79.8 231.64L78.7 233.18Z" fill="#111" />
<path d="M79.6 231L81.8 231L80.7 232.54Z" fill="#111" />
<path d="M69.1 234.42L78.7 237.9L88.3 234.42" fill="none" stroke="#111" stroke-width="0.9" stroke-opacity="0.85"/>
<path d="M68.6 234.06L70.8 234.06L69.7 235.6Z" fill="#111" />
<path d="M70.6 234.7L72.8 234.7L71.7 236.24Z" fill="#111" />
<path d="M72.6 235.34L74.8 235.34L73.7 236.88Z" fill="#111" />
<path d="M74.6 235.98L76.8 235.98L75.7 237.52Z" fill="#111" />
<path d="M76.6 236.62L78.8 236.62L77.7 238.16Z" fill="#111" />
<path d="M78.6 236.62L80.8 236.62L79.7 238.16Z" fill="#111" />
<path d="M80.6 235.98L82.8 235.98L81.7 237.52Z" fill="#111" />
<path d="M82.6 235.34L84.8 235.34L83.7 236.88Z" fill="#111" />
<path d="M84.6 234.7L86.8 234.7L85.7 236.24Z" fill="#111" />
<path d="M86.6 234.06L88.8 234.06L87.7 235.6Z" fill="#111" />
<path d="M70.1 237.14L78.7 240.3L87.3 237.14" fill="none" stroke="#111" stroke-width="0.9" stroke-opacity="0.85"/>
<path d="M69.6 236.78L71.8 236.78L70.7 238.32Z" fill="#111" />
<path d="M71.6 237.42L73.8 237.42L72.7 238.96Z" fill="#111" />
<path d="M73.6 238.06L75.8 238.06L74.7 239.6Z" fill="#111" />
<path d="M75.6 238.7L77.8 238.7L76.7 240.24Z" fill="#111" />
<path d="M77.6 239.34L79.8 239.34L78.7 240.88Z" fill="#111" />
<path d="M79.6 238.7L81.8 238.7L80.7 240.24Z" fill="#111" />
<path d="M81.6 238.06L83.8 238.06L82.7 239.6Z" fill="#111" />
<path d="M83.6 237.42L85.8 237.42L84.7 238.96Z" fill="#111" />
<path d="M85.6 236.78L87.8 236.78L86.7 238.32Z" fill="#111" />
<path d="M71.1 239.76L78.7 242.6L86.3 239.76" fill="none" stroke="#111" stroke-width="0.9" stroke-opacity="0.85"/>
<path d="M70.6 239.4L72.8 239.4L71.7 240.94Z" fill="#111" />
<path d="M72.6 240.04L74.8 240.04L73.7 241.58Z" fill="#111" />
<path d="M74.6 240.68L76.8 240.68L75.7 242.22Z" fill="#111" />
<path d="M76.6 241.32L78.8 241.32L77.7 242.86Z" fill="#111" />
<path d="M78.6 241.32L80.8 241.32L79.7 242.86Z" fill="#111" />
<path d="M80.6 240.68L82.8 240.68L81.7 242.22Z" fill="#111" />
<path d="M82.6 240.04L84.8 240.04L83.7 241.58Z" fill="#111" />
<path d="M84.6 239.4L86.8 239.4L85.7 240.94Z" fill="#111" />
<path d="M73.1 242.6L78.7 244.8L84.3 242.6" fill="none" stroke="#111" stroke-width="0.9" stroke-opacity="0.85"/>
<path d="M72.6 242.24L74.8 242.24L73.7 243.78Z" fill="#111" />
<path d="M74.6 242.88L76.8 242.88L75.7 244.42Z" fill="#111" />
<path d="M76.6 243.52L78.8 243.52L77.7 245.06Z" fill="#111" />
<path d="M78.6 243.52L80.8 243.52L79.7 245.06Z" fill="#111" />
<path d="M80.6 242.88L82.8 242.88L81.7 244.42Z" fill="#111" />
<path d="M82.6 242.24L84.8 242.24L83.7 243.78Z" fill="#111" />
<path d="M75.1 247.34L78.7 248.9L82.3 247.34" fill="none" stroke="#111" stroke-width="0.9" stroke-opacity="0.85"/>
<path d="M74.6 246.98L76.8 246.98L75.7 248.52Z" fill="#111" />
<path d="M76.6 247.62L78.8 247.62L77.7 249.16Z" fill="#111" />
<path d="M78.6 247.62L80.8 247.62L79.7 249.16Z" fill="#111" />
<path d="M80.6 246.98L82.8 246.98L81.7 248.52Z" fill="#111" />
<path d="M77.7 251.9L79.7 251.9L78.7 253.3Z" fill="#111" />
<path d="M77.7 254.9L79.7 254.9L78.7 256.3Z" fill="#111" />
<path d="M77.7 257.9L79.7 257.9L78.7 259.3Z" fill="#111" />
<line x1="66" y1="235.5" x2="91.7" y2="235.5" stroke="#000" stroke-width="1.2" />
<line x1="72.4" y1="224.5" x2="85.6" y2="224.5" stroke="#000" stroke-width="1.0" />
<line x1="72.5" y1="246.5" x2="85.6" y2="246.5" stroke="#000" stroke-width="1.0" />
<text x="40.1" y="274.9" font-family="Liberation Sans, sans-serif" font-size="6.9" font-weight="bold" text-anchor="middle" fill="#000" textLength="15.4" lengthAdjust="spacingAndGlyphs" >LUAD</text>
<text x="42" y="282.9" font-family="Liberation Sans, sans-serif" font-size="6.5" font-weight="bold" text-anchor="middle" fill="#000" textLength="20.1" lengthAdjust="spacingAndGlyphs" >(n=106)</text>
<text x="79.2" y="274.9" font-family="Liberation Sans, sans-serif" font-size="6.9" font-weight="bold" text-anchor="middle" fill="#000" textLength="14.7" lengthAdjust="spacingAndGlyphs" >LUSC</text>
<text x="79.5" y="282.9" font-family="Liberation Sans, sans-serif" font-size="6.5" font-weight="bold" text-anchor="middle" fill="#000" textLength="16.3" lengthAdjust="spacingAndGlyphs" >(n=66)</text>
<line x1="129.8" y1="168.8" x2="129.8" y2="264.6" stroke="#333" stroke-width="1.3" />
<line x1="126.2" y1="264.6" x2="193.6" y2="264.6" stroke="#1a1a1a" stroke-width="1.6" />
<line x1="126.3" y1="168.75" x2="129.8" y2="168.75" stroke="#1a1a1a" stroke-width="1.2" />
<text x="125.2" y="171.35" font-family="Liberation Sans, sans-serif" font-size="6.9" font-weight="normal" text-anchor="end" fill="#000"  stroke="#000" stroke-width="0.25">15</text>
<line x1="126.3" y1="200.7" x2="129.8" y2="200.7" stroke="#1a1a1a" stroke-width="1.2" />
<text x="125.2" y="203.3" font-family="Liberation Sans, sans-serif" font-size="6.9" font-weight="normal" text-anchor="end" fill="#000"  stroke="#000" stroke-width="0.25">10</text>
<line x1="126.3" y1="232.65" x2="129.8" y2="232.65" stroke="#1a1a1a" stroke-width="1.2" />
<text x="125.2" y="235.25" font-family="Liberation Sans, sans-serif" font-size="6.9" font-weight="normal" text-anchor="end" fill="#000"  stroke="#000" stroke-width="0.25">5</text>
<line x1="126.3" y1="264.6" x2="129.8" y2="264.6" stroke="#1a1a1a" stroke-width="1.2" />
<text x="125.2" y="267.2" font-family="Liberation Sans, sans-serif" font-size="6.9" font-weight="normal" text-anchor="end" fill="#000"  stroke="#000" stroke-width="0.25">0</text>
<line x1="148.3" y1="264.6" x2="148.3" y2="266.6" stroke="#1a1a1a" stroke-width="0.8" />
<line x1="175.8" y1="264.6" x2="175.8" y2="266.6" stroke="#1a1a1a" stroke-width="0.8" />
<text transform="translate(112.2,217) rotate(-90)" x="0" y="0" dy="0.35em" font-family="Liberation Sans, sans-serif" font-size="7.2" font-weight="normal" text-anchor="middle" fill="#000" textLength="49" lengthAdjust="spacingAndGlyphs" stroke="#000" stroke-width="0.2">Expression value</text>
<text x="159.7" y="169.7" font-family="Liberation Sans, sans-serif" font-size="6.9" font-weight="bold" text-anchor="middle" fill="#000" textLength="30" lengthAdjust="spacingAndGlyphs" >GSE31552</text>
<text x="160.2" y="189.3" font-family="Liberation Sans, sans-serif" font-size="6.6" font-weight="normal" text-anchor="middle" fill="#000"  stroke="#000" stroke-width="0.3">ns</text>
<line x1="139.3" y1="193.4" x2="179.8" y2="193.4" stroke="#444" stroke-width="1.1" />
<rect x="139.95" y="216.15" width="1.9" height="1.9" fill="#111" />
<rect x="141.85" y="216.35" width="1.9" height="1.9" fill="#111" />
<rect x="143.65" y="216.55" width="1.9" height="1.9" fill="#111" />
<rect x="147.25" y="213.65" width="1.9" height="1.9" fill="#111" />
<rect x="150.55" y="214.65" width="1.9" height="1.9" fill="#111" />
<rect x="154.05" y="216.85" width="1.9" height="1.9" fill="#111" />
<rect x="150.65" y="219.45" width="1.9" height="1.9" fill="#111" />
<rect x="154.25" y="219.55" width="1.9" height="1.9" fill="#111" />
<rect x="146.95" y="217.55" width="1.9" height="1.9" fill="#111" />
<rect x="147.35" y="225.55" width="1.9" height="1.9" fill="#111" />
<rect x="147.55" y="229.55" width="1.9" height="1.9" fill="#111" />
<rect x="148.55" y="232.55" width="1.9" height="1.9" fill="#111" />
<rect x="143.85" y="234.35" width="1.9" height="1.9" fill="#111" />
<rect x="147.95" y="234.55" width="1.9" height="1.9" fill="#111" />
<rect x="150.25" y="235.85" width="1.9" height="1.9" fill="#111" />
<rect x="140.05" y="239.05" width="1.9" height="1.9" fill="#111" />
<rect x="144.55" y="238.55" width="1.9" height="1.9" fill="#111" />
<rect x="146.25" y="239.65" width="1.9" height="1.9" fill="#111" />
<rect x="148.05" y="240.35" width="1.9" height="1.9" fill="#111" />
<rect x="150.55" y="240.85" width="1.9" height="1.9" fill="#111" />
<rect x="154.05" y="242.25" width="1.9" height="1.9" fill="#111" />
<rect x="152.05" y="237.55" width="1.9" height="1.9" fill="#111" />
<rect x="145.55" y="236.55" width="1.9" height="1.9" fill="#111" />
<rect x="174.05" y="200.35" width="1.9" height="1.9" fill="#111" />
<rect x="174.35" y="208.55" width="1.9" height="1.9" fill="#111" />
<rect x="171.05" y="212.35" width="1.9" height="1.9" fill="#111" />
<rect x="176.65" y="212.35" width="1.9" height="1.9" fill="#111" />
<rect x="169.45" y="218.55" width="1.9" height="1.9" fill="#111" />
<rect x="173.55" y="218.55" width="1.9" height="1.9" fill="#111" />
<rect x="180.05" y="218.55" width="1.9" height="1.9" fill="#111" />
<rect x="174.05" y="222.05" width="1.9" height="1.9" fill="#111" />
<rect x="171.05" y="225.05" width="1.9" height="1.9" fill="#111" />
<rect x="175.05" y="225.55" width="1.9" height="1.9" fill="#111" />
<rect x="174.55" y="231.05" width="1.9" height="1.9" fill="#111" />
<rect x="169.05" y="234.05" width="1.9" height="1.9" fill="#111" />
<rect x="172.55" y="233.55" width="1.9" height="1.9" fill="#111" />
<rect x="176.05" y="233.05" width="1.9" height="1.9" fill="#111" />
<rect x="179.55" y="233.55" width="1.9" height="1.9" fill="#111" />
<rect x="167.35" y="237.05" width="1.9" height="1.9" fill="#111" />
<rect x="171.05" y="237.05" width="1.9" height="1.9" fill="#111" />
<rect x="174.55" y="236.55" width="1.9" height="1.9" fill="#111" />
<rect x="177.55" y="237.05" width="1.9" height="1.9" fill="#111" />
<rect x="181.55" y="237.05" width="1.9" height="1.9" fill="#111" />
<rect x="170.05" y="240.55" width="1.9" height="1.9" fill="#111" />
<rect x="173.55" y="240.05" width="1.9" height="1.9" fill="#111" />
<rect x="171.55" y="244.05" width="1.9" height="1.9" fill="#111" />
<rect x="175.55" y="244.05" width="1.9" height="1.9" fill="#111" />
<line x1="148.3" y1="218.2" x2="148.3" y2="240.8" stroke="#666" stroke-width="0.8" />
<line x1="139" y1="228.7" x2="157.7" y2="228.7" stroke="#111" stroke-width="1.3" />
<line x1="145.3" y1="218.2" x2="152.2" y2="218.2" stroke="#444" stroke-width="0.9" />
<line x1="145.3" y1="240.8" x2="152.2" y2="240.8" stroke="#444" stroke-width="0.9" />
<line x1="175.8" y1="215.8" x2="175.8" y2="241.5" stroke="#666" stroke-width="0.8" />
<line x1="166" y1="228.7" x2="184" y2="228.7" stroke="#111" stroke-width="1.3" />
<line x1="170.8" y1="215.8" x2="179.8" y2="215.8" stroke="#444" stroke-width="0.9" />
<line x1="170.8" y1="241.5" x2="179.8" y2="241.5" stroke="#444" stroke-width="0.9" />
<text x="145.6" y="275.2" font-family="Liberation Sans, sans-serif" font-size="6.9" font-weight="bold" text-anchor="middle" fill="#000" textLength="21.7" lengthAdjust="spacingAndGlyphs" >Normal</text>
<text x="145.6" y="282.9" font-family="Liberation Sans, sans-serif" font-size="6.5" font-weight="bold" text-anchor="middle" fill="#000" textLength="16.9" lengthAdjust="spacingAndGlyphs" >(n=23)</text>
<text x="178.2" y="275.2" font-family="Liberation Sans, sans-serif" font-size="6.9" font-weight="bold" text-anchor="middle" fill="#000" textLength="14.5" lengthAdjust="spacingAndGlyphs" >LUSC</text>
<text x="179.5" y="282.9" font-family="Liberation Sans, sans-serif" font-size="6.5" font-weight="bold" text-anchor="middle" fill="#000" textLength="16" lengthAdjust="spacingAndGlyphs" >(n=25)</text>
<line x1="230" y1="171.6" x2="230" y2="264.4" stroke="#333" stroke-width="1.3" />
<line x1="226.4" y1="264.4" x2="298" y2="264.4" stroke="#1a1a1a" stroke-width="1.6" />
<line x1="226.2" y1="171.8" x2="230" y2="171.8" stroke="#1a1a1a" stroke-width="1.2" />
<text x="224.2" y="174.3" font-family="Liberation Sans, sans-serif" font-size="6.9" font-weight="normal" text-anchor="end" fill="#000"  stroke="#000" stroke-width="0.25">7</text>
<line x1="226.2" y1="194.95" x2="230" y2="194.95" stroke="#1a1a1a" stroke-width="1.2" />
<text x="224.2" y="197.45" font-family="Liberation Sans, sans-serif" font-size="6.9" font-weight="normal" text-anchor="end" fill="#000"  stroke="#000" stroke-width="0.25">6</text>
<line x1="226.2" y1="218.1" x2="230" y2="218.1" stroke="#1a1a1a" stroke-width="1.2" />
<text x="224.2" y="220.6" font-family="Liberation Sans, sans-serif" font-size="6.9" font-weight="normal" text-anchor="end" fill="#000"  stroke="#000" stroke-width="0.25">5</text>
<line x1="226.2" y1="241.25" x2="230" y2="241.25" stroke="#1a1a1a" stroke-width="1.2" />
<text x="224.2" y="243.75" font-family="Liberation Sans, sans-serif" font-size="6.9" font-weight="normal" text-anchor="end" fill="#000"  stroke="#000" stroke-width="0.25">4</text>
<line x1="226.2" y1="264.4" x2="230" y2="264.4" stroke="#1a1a1a" stroke-width="1.2" />
<text x="224.2" y="266.9" font-family="Liberation Sans, sans-serif" font-size="6.9" font-weight="normal" text-anchor="end" fill="#000"  stroke="#000" stroke-width="0.25">3</text>
<line x1="250" y1="264.4" x2="250" y2="266.4" stroke="#1a1a1a" stroke-width="0.8" />
<line x1="278.6" y1="264.4" x2="278.6" y2="266.4" stroke="#1a1a1a" stroke-width="0.8" />
<text transform="translate(213.6,217) rotate(-90)" x="0" y="0" dy="0.35em" font-family="Liberation Sans, sans-serif" font-size="7.2" font-weight="normal" text-anchor="middle" fill="#000" textLength="49" lengthAdjust="spacingAndGlyphs" stroke="#000" stroke-width="0.2">Expression value</text>
<text x="266.4" y="169.7" font-family="Liberation Sans, sans-serif" font-size="6.9" font-weight="bold" text-anchor="middle" fill="#000" textLength="33.7" lengthAdjust="spacingAndGlyphs" >GSE103512</text>
<text x="261.7" y="183.8" font-family="Liberation Sans, sans-serif" font-size="6.6" font-weight="normal" text-anchor="middle" fill="#000"  stroke="#000" stroke-width="0.3">ns</text>
<line x1="245" y1="187" x2="284" y2="187" stroke="#444" stroke-width="1.1" />
<line x1="250" y1="210.6" x2="250" y2="217.3" stroke="#777" stroke-width="0.7" />
<line x1="245.6" y1="210.6" x2="253.8" y2="210.6" stroke="#888" stroke-width="0.7" />
<line x1="244.8" y1="217.3" x2="254" y2="217.3" stroke="#777" stroke-width="0.8" />
<circle cx="242.3" cy="212.3" r="1" fill="#111" />
<circle cx="247" cy="212" r="1" fill="#111" />
<circle cx="249.5" cy="211" r="1" fill="#111" />
<circle cx="252" cy="214" r="1" fill="#111" />
<circle cx="256.5" cy="214.5" r="1" fill="#111" />
<circle cx="249.5" cy="220.7" r="1" fill="#111" />
<line x1="239.8" y1="214.2" x2="258.3" y2="214.2" stroke="#222" stroke-width="1.2" />
<rect x="277.35" y="180.75" width="1.9" height="1.9" fill="#111" />
<rect x="277.35" y="190.75" width="1.9" height="1.9" fill="#111" />
<rect x="277.65" y="196.05" width="1.9" height="1.9" fill="#111" />
<rect x="272.75" y="210.35" width="1.9" height="1.9" fill="#111" />
<rect x="277.65" y="208.75" width="1.9" height="1.9" fill="#111" />
<rect x="282.55" y="209.45" width="1.9" height="1.9" fill="#111" />
<rect x="275.05" y="214.55" width="1.9" height="1.9" fill="#111" />
<rect x="280.05" y="216.05" width="1.9" height="1.9" fill="#111" />
<rect x="272.85" y="220.25" width="1.9" height="1.9" fill="#111" />
<rect x="277.45" y="219.25" width="1.9" height="1.9" fill="#111" />
<rect x="282.35" y="220.35" width="1.9" height="1.9" fill="#111" />
<rect x="275.05" y="225.45" width="1.9" height="1.9" fill="#111" />
<rect x="280.05" y="225.05" width="1.9" height="1.9" fill="#111" />
<rect x="270.15" y="227.85" width="1.9" height="1.9" fill="#111" />
<rect x="285.05" y="226.65" width="1.9" height="1.9" fill="#111" />
<rect x="280.05" y="227.85" width="1.9" height="1.9" fill="#111" />
<rect x="275.05" y="229.05" width="1.9" height="1.9" fill="#111" />
<rect x="275.55" y="231.25" width="1.9" height="1.9" fill="#111" />
<rect x="275.05" y="235.75" width="1.9" height="1.9" fill="#111" />
<rect x="280.05" y="238.65" width="1.9" height="1.9" fill="#111" />
<line x1="278.6" y1="205" x2="278.6" y2="233" stroke="#777" stroke-width="0.8" />
<line x1="268.9" y1="219.1" x2="287.8" y2="219.1" stroke="#111" stroke-width="1.3" />
<line x1="273.8" y1="205" x2="283.2" y2="205" stroke="#666" stroke-width="0.9" />
<line x1="274.2" y1="232.9" x2="283.2" y2="232.9" stroke="#555" stroke-width="0.9" />
<text x="247.7" y="275" font-family="Liberation Sans, sans-serif" font-size="6.9" font-weight="bold" text-anchor="middle" fill="#000" textLength="21.4" lengthAdjust="spacingAndGlyphs" >Normal</text>
<text x="245.3" y="283.2" font-family="Liberation Sans, sans-serif" font-size="6.5" font-weight="bold" text-anchor="middle" fill="#000" textLength="12.6" lengthAdjust="spacingAndGlyphs" >(n=6)</text>
<text x="280" y="275" font-family="Liberation Sans, sans-serif" font-size="6.9" font-weight="bold" text-anchor="middle" fill="#000" textLength="14" lengthAdjust="spacingAndGlyphs" >LUSC</text>
<text x="278" y="283.2" font-family="Liberation Sans, sans-serif" font-size="6.5" font-weight="bold" text-anchor="middle" fill="#000" textLength="16" lengthAdjust="spacingAndGlyphs" >(n=23)</text>
</svg>
</body></html>
